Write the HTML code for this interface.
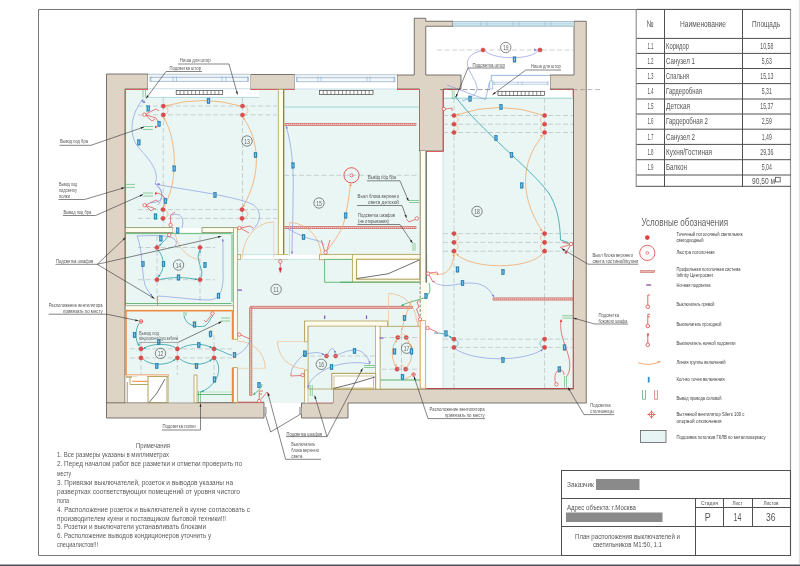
<!DOCTYPE html>
<html><head><meta charset="utf-8"><style>
html,body{margin:0;padding:0;background:#fff;}
body{width:800px;height:566px;overflow:hidden;}
svg{display:block;will-change:transform;}
text{font-family:"Liberation Sans", sans-serif;}
</style></head><body>
<svg width="800" height="566" viewBox="0 0 800 566">
<path d="M790.5,9.5 H38.5 V555.5 H790.5" stroke="#777" fill="none" stroke-width="1" />
<line x1="790.5" y1="9" x2="790.5" y2="556" stroke="#999" stroke-width="1.2" />
<rect x="0" y="564.5" width="800" height="1.5" fill="#4e535d" stroke="none" stroke-width="1" />
<line x1="799.3" y1="0" x2="799.3" y2="564" stroke="#dcdcdc" stroke-width="1" />
<line x1="636" y1="9.4" x2="791" y2="9.4" stroke="#505050" stroke-width="1" />
<line x1="636" y1="38.4" x2="791" y2="38.4" stroke="#505050" stroke-width="1" />
<line x1="636" y1="53.4" x2="791" y2="53.4" stroke="#505050" stroke-width="1" />
<line x1="636" y1="68.5" x2="791" y2="68.5" stroke="#505050" stroke-width="1" />
<line x1="636" y1="83.6" x2="791" y2="83.6" stroke="#505050" stroke-width="1" />
<line x1="636" y1="99.0" x2="791" y2="99.0" stroke="#505050" stroke-width="1" />
<line x1="636" y1="114.0" x2="791" y2="114.0" stroke="#505050" stroke-width="1" />
<line x1="636" y1="129.2" x2="791" y2="129.2" stroke="#505050" stroke-width="1" />
<line x1="636" y1="144.4" x2="791" y2="144.4" stroke="#505050" stroke-width="1" />
<line x1="636" y1="159.7" x2="791" y2="159.7" stroke="#505050" stroke-width="1" />
<line x1="636" y1="175.0" x2="791" y2="175.0" stroke="#505050" stroke-width="1" />
<line x1="636" y1="186.3" x2="791" y2="186.3" stroke="#505050" stroke-width="1" />
<line x1="664.5" y1="9" x2="664.5" y2="187" stroke="#505050" stroke-width="1" />
<line x1="742.5" y1="9" x2="742.5" y2="187" stroke="#505050" stroke-width="1" />
<line x1="636.2" y1="9" x2="636.2" y2="187" stroke="#8a8a8a" stroke-width="1.1" />
<text x="650" y="26.7" font-size="9.4" text-anchor="middle" fill="#555555" textLength="7" lengthAdjust="spacingAndGlyphs" >№</text>
<text x="703" y="26.5" font-size="9" text-anchor="middle" fill="#555555" textLength="46" lengthAdjust="spacingAndGlyphs" >Наименование</text>
<text x="766" y="26.5" font-size="9" text-anchor="middle" fill="#555555" textLength="28" lengthAdjust="spacingAndGlyphs" >Площадь</text>
<text x="650.5" y="48.7" font-size="8.6" text-anchor="middle" fill="#555555" textLength="6.2" lengthAdjust="spacingAndGlyphs" >1.1</text>
<text x="666" y="48.7" font-size="8.4" text-anchor="start" fill="#555555" textLength="23" lengthAdjust="spacingAndGlyphs" >Коридор</text>
<text x="766.8" y="48.7" font-size="8.6" text-anchor="middle" fill="#555555" textLength="13" lengthAdjust="spacingAndGlyphs" >10,58</text>
<text x="650.5" y="63.7" font-size="8.6" text-anchor="middle" fill="#555555" textLength="6.2" lengthAdjust="spacingAndGlyphs" >1.2</text>
<text x="666" y="63.7" font-size="8.4" text-anchor="start" fill="#555555" textLength="29" lengthAdjust="spacingAndGlyphs" >Санузел 1</text>
<text x="766.8" y="63.7" font-size="8.6" text-anchor="middle" fill="#555555" textLength="10" lengthAdjust="spacingAndGlyphs" >5,63</text>
<text x="650.5" y="78.8" font-size="8.6" text-anchor="middle" fill="#555555" textLength="6.2" lengthAdjust="spacingAndGlyphs" >1.3</text>
<text x="666" y="78.8" font-size="8.4" text-anchor="start" fill="#555555" textLength="23" lengthAdjust="spacingAndGlyphs" >Спальня</text>
<text x="766.8" y="78.8" font-size="8.6" text-anchor="middle" fill="#555555" textLength="13" lengthAdjust="spacingAndGlyphs" >15,13</text>
<text x="650.5" y="93.89999999999999" font-size="8.6" text-anchor="middle" fill="#555555" textLength="6.2" lengthAdjust="spacingAndGlyphs" >1.4</text>
<text x="666" y="93.89999999999999" font-size="8.4" text-anchor="start" fill="#555555" textLength="36" lengthAdjust="spacingAndGlyphs" >Гардеробная</text>
<text x="766.8" y="93.89999999999999" font-size="8.6" text-anchor="middle" fill="#555555" textLength="10" lengthAdjust="spacingAndGlyphs" >5,31</text>
<text x="650.5" y="109.3" font-size="8.6" text-anchor="middle" fill="#555555" textLength="6.2" lengthAdjust="spacingAndGlyphs" >1.5</text>
<text x="666" y="109.3" font-size="8.4" text-anchor="start" fill="#555555" textLength="24" lengthAdjust="spacingAndGlyphs" >Детская</text>
<text x="766.8" y="109.3" font-size="8.6" text-anchor="middle" fill="#555555" textLength="13" lengthAdjust="spacingAndGlyphs" >15,37</text>
<text x="650.5" y="124.3" font-size="8.6" text-anchor="middle" fill="#555555" textLength="6.2" lengthAdjust="spacingAndGlyphs" >1.6</text>
<text x="666" y="124.3" font-size="8.4" text-anchor="start" fill="#555555" textLength="42" lengthAdjust="spacingAndGlyphs" >Гардеробная 2</text>
<text x="766.8" y="124.3" font-size="8.6" text-anchor="middle" fill="#555555" textLength="10" lengthAdjust="spacingAndGlyphs" >2,59</text>
<text x="650.5" y="139.5" font-size="8.6" text-anchor="middle" fill="#555555" textLength="6.2" lengthAdjust="spacingAndGlyphs" >1.7</text>
<text x="666" y="139.5" font-size="8.4" text-anchor="start" fill="#555555" textLength="29" lengthAdjust="spacingAndGlyphs" >Санузел 2</text>
<text x="766.8" y="139.5" font-size="8.6" text-anchor="middle" fill="#555555" textLength="10" lengthAdjust="spacingAndGlyphs" >1,49</text>
<text x="650.5" y="154.70000000000002" font-size="8.6" text-anchor="middle" fill="#555555" textLength="6.2" lengthAdjust="spacingAndGlyphs" >1.8</text>
<text x="666" y="154.70000000000002" font-size="8.4" text-anchor="start" fill="#555555" textLength="46" lengthAdjust="spacingAndGlyphs" >Кухня/Гостиная</text>
<text x="766.8" y="154.70000000000002" font-size="8.6" text-anchor="middle" fill="#555555" textLength="13" lengthAdjust="spacingAndGlyphs" >29,36</text>
<text x="650.5" y="170.0" font-size="8.6" text-anchor="middle" fill="#555555" textLength="6.2" lengthAdjust="spacingAndGlyphs" >1.9</text>
<text x="666" y="170.0" font-size="8.4" text-anchor="start" fill="#555555" textLength="21" lengthAdjust="spacingAndGlyphs" >Балкон</text>
<text x="766.8" y="170.0" font-size="8.6" text-anchor="middle" fill="#555555" textLength="10" lengthAdjust="spacingAndGlyphs" >5,04</text>
<text x="775" y="184.2" font-size="8.6" text-anchor="end" fill="#555555" textLength="23" lengthAdjust="spacingAndGlyphs" >90,50 м</text>
<rect x="775.6" y="177.3" width="4.6" height="4.6" fill="none" stroke="#505050" stroke-width="0.8" />
<text x="641.5" y="225.5" font-size="10" text-anchor="start" fill="#606060" textLength="86.5" lengthAdjust="spacingAndGlyphs" >Условные обозначения</text>
<circle cx="647.3" cy="237.6" r="2.3" fill="#e0403f" stroke="none" stroke-width="1" />
<text x="676.5" y="236" font-size="5.6" text-anchor="start" fill="#404040" textLength="66" lengthAdjust="spacingAndGlyphs" >Точечный потолочный светильник</text>
<text x="676.5" y="242" font-size="5.6" text-anchor="start" fill="#404040" textLength="27" lengthAdjust="spacingAndGlyphs" >светодиодный</text>
<circle cx="647.3" cy="252.9" r="7.6" fill="none" stroke="#e0403f" stroke-width="0.8" />
<circle cx="647.3" cy="252.9" r="1.4" fill="none" stroke="#e0403f" stroke-width="0.6" />
<text x="676.5" y="254.3" font-size="5.6" text-anchor="start" fill="#404040" textLength="38" lengthAdjust="spacingAndGlyphs" >Люстра потолочная</text>
<rect x="640.5" y="270.6" width="14" height="1.9" fill="#e29c96" stroke="#c85a55" stroke-width="0.5" />
<line x1="640.5" y1="271.55" x2="654.5" y2="271.55" stroke="white" stroke-width="0.6" stroke-dasharray="0.8,1.2"/>
<text x="676.5" y="270.7" font-size="5.6" text-anchor="start" fill="#404040" textLength="64" lengthAdjust="spacingAndGlyphs" >Профильная потолочная система</text>
<text x="676.5" y="276.7" font-size="5.6" text-anchor="start" fill="#404040" textLength="37" lengthAdjust="spacingAndGlyphs" >Infinity Центросвет</text>
<line x1="646.2" y1="285" x2="651.2" y2="285" stroke="#8040a0" stroke-width="1.2" />
<text x="676.5" y="287.4" font-size="5.6" text-anchor="start" fill="#404040" textLength="34" lengthAdjust="spacingAndGlyphs" >Ночная подсветка</text>
<line x1="647.8" y1="295" x2="647.8" y2="304.9" stroke="#e0403f" stroke-width="0.8" />
<circle cx="647.8" cy="306.7" r="1.8" fill="white" stroke="#e0403f" stroke-width="0.8" />
<line x1="647.8" y1="295" x2="650.0" y2="295" stroke="#e0403f" stroke-width="0.8" />
<text x="676.5" y="306.1" font-size="5.6" text-anchor="start" fill="#404040" textLength="38" lengthAdjust="spacingAndGlyphs" >Выключатель прямой</text>
<line x1="647.8" y1="314.3" x2="647.8" y2="324.2" stroke="#e0403f" stroke-width="0.8" />
<circle cx="647.8" cy="326" r="1.8" fill="white" stroke="#e0403f" stroke-width="0.8" />
<line x1="647.8" y1="314.3" x2="650.3" y2="314.3" stroke="#e0403f" stroke-width="0.8" />
<line x1="647.8" y1="316.8" x2="649.8" y2="316.8" stroke="#e0403f" stroke-width="0.8" />
<text x="676.5" y="325.6" font-size="5.6" text-anchor="start" fill="#404040" textLength="45" lengthAdjust="spacingAndGlyphs" >Выключатель проходной</text>
<line x1="647.8" y1="333.5" x2="647.8" y2="343.0" stroke="#e0403f" stroke-width="0.8" />
<circle cx="647.8" cy="344.8" r="1.8" fill="white" stroke="#e0403f" stroke-width="0.8" />
<path d="M647.1999999999999,333.5 L649.1999999999999,333.5 L647.8,337.0 Z" stroke="none" fill="#e0403f" stroke-width="1" />
<text x="676.5" y="344.5" font-size="5.6" text-anchor="start" fill="#404040" textLength="59" lengthAdjust="spacingAndGlyphs" >Выключатель ночной подсветки</text>
<path d="M638,362.7 Q649.5,366.5 660.5,361.6" stroke="#f0a060" fill="none" stroke-width="0.9" />
<path d="M660.5,361.6 l-3,-0.6 l0.8,2.2 Z" stroke="none" fill="#f0a060" stroke-width="1" />
<text x="676.5" y="364.2" font-size="5.6" text-anchor="start" fill="#404040" textLength="49" lengthAdjust="spacingAndGlyphs" >Линия группы включений</text>
<rect x="647.8" y="376.9" width="1.8" height="5.6" fill="#2e8fcf" stroke="none" stroke-width="1" />
<text x="676.5" y="381.1" font-size="5.6" text-anchor="start" fill="#404040" textLength="48" lengthAdjust="spacingAndGlyphs" >Кол-во точек включения</text>
<path d="M642.5,390 V399.3 H645.5 V390" stroke="#50a070" fill="none" stroke-width="0.7" />
<path d="M654.6,390 V399.3 H657.4 V390" stroke="#d06060" fill="none" stroke-width="0.7" />
<text x="676.5" y="399.8" font-size="5.6" text-anchor="start" fill="#404040" textLength="45" lengthAdjust="spacingAndGlyphs" >Вывод провода силовой</text>
<path d="M651.5,411.3 L654.7,414.5 L651.5,417.7 L648.3,414.5 Z" stroke="#e0403f" fill="white" stroke-width="0.8" />
<line x1="647.5" y1="414.5" x2="655.5" y2="414.5" stroke="#e0403f" stroke-width="0.7" />
<line x1="651.5" y1="410.5" x2="651.5" y2="418.5" stroke="#e0403f" stroke-width="0.7" />
<text x="676.5" y="416.4" font-size="5.6" text-anchor="start" fill="#404040" textLength="68" lengthAdjust="spacingAndGlyphs" >Вытяжной вентилятор Silent 100 с</text>
<text x="676.5" y="422.6" font-size="5.6" text-anchor="start" fill="#404040" textLength="45" lengthAdjust="spacingAndGlyphs" >опорной отключения</text>
<rect x="640.5" y="430.5" width="25.5" height="12" fill="#e6f4f4" stroke="#606060" stroke-width="0.8" />
<text x="676.5" y="439" font-size="5.6" text-anchor="start" fill="#404040" textLength="89" lengthAdjust="spacingAndGlyphs" >Подшивка потолков ГКЛВ по металлокаркасу</text>
<rect x="561.5" y="470.5" width="229" height="85" fill="none" stroke="#505050" stroke-width="1" />
<line x1="561" y1="498.5" x2="791" y2="498.5" stroke="#505050" stroke-width="1" />
<line x1="561" y1="526.5" x2="791" y2="526.5" stroke="#505050" stroke-width="1" />
<line x1="695.5" y1="498" x2="695.5" y2="555" stroke="#505050" stroke-width="1" />
<line x1="723.5" y1="498" x2="723.5" y2="526" stroke="#505050" stroke-width="1" />
<line x1="752.5" y1="498" x2="752.5" y2="526" stroke="#505050" stroke-width="1" />
<line x1="695" y1="507.5" x2="791" y2="507.5" stroke="#505050" stroke-width="1" />
<text x="567" y="487.3" font-size="7" text-anchor="start" fill="#555555" textLength="27" lengthAdjust="spacingAndGlyphs" >Заказчик</text>
<rect x="596" y="479" width="43.5" height="11" fill="#8a8a8a" stroke="none" stroke-width="1" />
<text x="567" y="510" font-size="7" text-anchor="start" fill="#555555" textLength="69" lengthAdjust="spacingAndGlyphs" >Адрес объекта: г.Москва</text>
<rect x="566" y="512.5" width="96.5" height="9.5" fill="#8a8a8a" stroke="none" stroke-width="1" />
<text x="709.5" y="504.6" font-size="5" text-anchor="middle" fill="#555555" textLength="17" lengthAdjust="spacingAndGlyphs" >Стадия</text>
<text x="737.5" y="504.6" font-size="5" text-anchor="middle" fill="#555555" textLength="10" lengthAdjust="spacingAndGlyphs" >Лист</text>
<text x="771" y="504.6" font-size="5" text-anchor="middle" fill="#555555" textLength="15" lengthAdjust="spacingAndGlyphs" >Листов</text>
<text x="707.8" y="520.6" font-size="11" text-anchor="middle" fill="#555555" textLength="6" lengthAdjust="spacingAndGlyphs" >Р</text>
<text x="737.4" y="520.6" font-size="11" text-anchor="middle" fill="#555555" textLength="7.7" lengthAdjust="spacingAndGlyphs" >14</text>
<text x="770.8" y="520.6" font-size="11" text-anchor="middle" fill="#555555" textLength="9.5" lengthAdjust="spacingAndGlyphs" >36</text>
<text x="627.5" y="538.5" font-size="6.5" text-anchor="middle" fill="#555555" textLength="105" lengthAdjust="spacingAndGlyphs" >План расположения выключателей и</text>
<text x="627.5" y="547" font-size="6.5" text-anchor="middle" fill="#555555" textLength="69" lengthAdjust="spacingAndGlyphs" >светильников М1:50, 1.1</text>
<text x="153" y="448.3" font-size="7.4" text-anchor="middle" fill="#5a5a5a" textLength="34" lengthAdjust="spacingAndGlyphs" >Примечания</text>
<text x="57" y="457.1" font-size="7.4" text-anchor="start" fill="#5a5a5a" textLength="112" lengthAdjust="spacingAndGlyphs" >1. Все размеры указаны в миллиметрах</text>
<text x="57" y="466.3" font-size="7.4" text-anchor="start" fill="#5a5a5a" textLength="185" lengthAdjust="spacingAndGlyphs" >2. Перед началом работ все разметки и отметки проверить по</text>
<text x="57" y="475.5" font-size="7.4" text-anchor="start" fill="#5a5a5a" textLength="14" lengthAdjust="spacingAndGlyphs" >месту</text>
<text x="57" y="484.7" font-size="7.4" text-anchor="start" fill="#5a5a5a" textLength="176" lengthAdjust="spacingAndGlyphs" >3. Привязки выключателей, розеток и выводов указаны на</text>
<text x="57" y="493.9" font-size="7.4" text-anchor="start" fill="#5a5a5a" textLength="183" lengthAdjust="spacingAndGlyphs" >развертках соответствующих помещений от уровня чистого</text>
<text x="57" y="502.9" font-size="7.4" text-anchor="start" fill="#5a5a5a" textLength="12" lengthAdjust="spacingAndGlyphs" >пола</text>
<text x="57" y="511.9" font-size="7.4" text-anchor="start" fill="#5a5a5a" textLength="193" lengthAdjust="spacingAndGlyphs" >4. Расположение розеток и выключателей в кухне согласовать с</text>
<text x="57" y="520.9" font-size="7.4" text-anchor="start" fill="#5a5a5a" textLength="169" lengthAdjust="spacingAndGlyphs" >производителем кухни и поставщиком бытовой техники!!!</text>
<text x="57" y="529.3" font-size="7.4" text-anchor="start" fill="#5a5a5a" textLength="149" lengthAdjust="spacingAndGlyphs" >5. Розетки и выключатели устанавливать блоками</text>
<text x="57" y="538.3" font-size="7.4" text-anchor="start" fill="#5a5a5a" textLength="154" lengthAdjust="spacingAndGlyphs" >6. Расположение выводов кондиционеров уточнить у</text>
<text x="57" y="546.9" font-size="7.4" text-anchor="start" fill="#5a5a5a" textLength="41" lengthAdjust="spacingAndGlyphs" >специалистов!!!</text>
<rect x="125" y="89" width="448.5" height="300" fill="#eaf6f4" stroke="none" stroke-width="1" />
<rect x="125" y="389" width="208" height="14" fill="#eaf6f4" stroke="none" stroke-width="1" />
<rect x="148" y="89" width="111" height="8.4" fill="white" stroke="none" stroke-width="1" />
<line x1="148" y1="97.4" x2="259" y2="97.4" stroke="#9fd0d8" stroke-width="0.8" />
<rect x="443.5" y="89" width="130" height="9.2" fill="white" stroke="none" stroke-width="1" />
<line x1="443.5" y1="98.2" x2="573.5" y2="98.2" stroke="#7cc8c8" stroke-width="0.8" />
<rect x="426.5" y="151" width="16.5" height="238" fill="white" stroke="none" stroke-width="1" />
<line x1="443" y1="151" x2="443" y2="389" stroke="#b8d8d8" stroke-width="0.7" />
<path d="M106.5,74 L148,74 L148,89 L125,89 L125,402.6 L264,402.6 L264,418 L106.5,418 Z" stroke="#5a5550" fill="#ded4c5" stroke-width="0.8" />
<path d="M250.5,74.5 L294.7,74.5 L294.7,89.3 L250.5,89.3 Z" stroke="#5a5550" fill="#ded4c5" stroke-width="0.8" />
<path d="M414.25,18.25 L425.75,18.25 L425.75,21.25 L453,21.25 L453,26.25 L425.75,26.25 L425.75,75 L461,75 L461,89 L443.5,89 L443.5,151 L419.5,151 L419.5,89 L397,89 L397,75 L414.25,75 Z" stroke="#5a5550" fill="#ded4c5" stroke-width="0.8" />
<path d="M574,21.25 L586.25,21.25 L586.25,403 L348,403 L348,418 L301.5,418 L301.5,403 L333,403 L333,389 L573.5,389 L573.5,89 L550,89 L550,75 L574,75 Z" stroke="#5a5550" fill="#ded4c5" stroke-width="0.8" />
<line x1="125.5" y1="89" x2="125.5" y2="310" stroke="#d66060" stroke-width="1" />
<line x1="125" y1="89.5" x2="148" y2="89.5" stroke="#d66060" stroke-width="1" />
<line x1="250.5" y1="89.5" x2="278" y2="89.5" stroke="#d66060" stroke-width="1" />
<line x1="284" y1="89.5" x2="294.7" y2="89.5" stroke="#d66060" stroke-width="1" />
<line x1="397" y1="89.5" x2="419.5" y2="89.5" stroke="#d66060" stroke-width="1" />
<line x1="443.5" y1="89.5" x2="461" y2="89.5" stroke="#d66060" stroke-width="1" />
<line x1="550" y1="89.5" x2="573.5" y2="89.5" stroke="#d66060" stroke-width="1" />
<line x1="426" y1="151.5" x2="443.5" y2="151.5" stroke="#d66060" stroke-width="1" />
<line x1="443" y1="89" x2="443" y2="151" stroke="#d66060" stroke-width="1" />
<line x1="419.5" y1="89" x2="419.5" y2="151" stroke="#d66060" stroke-width="0.8" />
<line x1="573" y1="89" x2="573" y2="97" stroke="#d66060" stroke-width="0.8" />
<line x1="573" y1="280" x2="573" y2="389" stroke="#c87060" stroke-width="0.8" />
<line x1="426" y1="388.5" x2="573.5" y2="388.5" stroke="#b84848" stroke-width="1" />
<line x1="237" y1="402.2" x2="264" y2="402.2" stroke="#d66060" stroke-width="1" />
<rect x="148" y="74" width="102.5" height="15" fill="white" stroke="none" stroke-width="1" />
<line x1="148" y1="74.3" x2="250.5" y2="74.3" stroke="#8aa0b0" stroke-width="0.7" />
<line x1="148" y1="88.7" x2="250.5" y2="88.7" stroke="#a8c8d8" stroke-width="0.6" />
<rect x="148.5" y="74.8" width="101.5" height="2.4" fill="#eef3f6" stroke="none" stroke-width="1" />
<rect x="150" y="77.3" width="98.5" height="4" fill="#f4f8fa" stroke="#8aaac8" stroke-width="0.7" />
<rect x="294.7" y="74.5" width="102.30000000000001" height="14.799999999999997" fill="white" stroke="none" stroke-width="1" />
<line x1="294.7" y1="74.8" x2="397" y2="74.8" stroke="#8aa0b0" stroke-width="0.7" />
<line x1="294.7" y1="89.0" x2="397" y2="89.0" stroke="#a8c8d8" stroke-width="0.6" />
<rect x="295.2" y="75.3" width="101.30000000000001" height="2.4" fill="#eef3f6" stroke="none" stroke-width="1" />
<rect x="296.7" y="77.8" width="98.30000000000001" height="4" fill="#f4f8fa" stroke="#8aaac8" stroke-width="0.7" />
<rect x="453" y="21.25" width="121" height="5.2" fill="#e2f2f7" stroke="none" stroke-width="1" />
<line x1="453" y1="21.5" x2="574" y2="21.5" stroke="#7f9fb4" stroke-width="0.6" />
<line x1="453" y1="23.2" x2="574" y2="23.2" stroke="#8fb8cc" stroke-width="0.6" />
<line x1="453" y1="25.0" x2="574" y2="25.0" stroke="#8fb8cc" stroke-width="0.6" />
<line x1="453" y1="26.3" x2="574" y2="26.3" stroke="#7f9fb4" stroke-width="0.6" />
<line x1="480.6" y1="22" x2="480.6" y2="26" stroke="#8fb8cc" stroke-width="0.5" />
<line x1="486.9" y1="22" x2="486.9" y2="26" stroke="#8fb8cc" stroke-width="0.5" />
<line x1="513" y1="22" x2="513" y2="26" stroke="#8fb8cc" stroke-width="0.5" />
<line x1="519" y1="22" x2="519" y2="26" stroke="#8fb8cc" stroke-width="0.5" />
<line x1="545" y1="22" x2="545" y2="26" stroke="#8fb8cc" stroke-width="0.5" />
<line x1="551" y1="22" x2="551" y2="26" stroke="#8fb8cc" stroke-width="0.5" />
<line x1="151" y1="76.5" x2="151" y2="81.5" stroke="#7ab0d8" stroke-width="0.6" />
<line x1="173" y1="76.5" x2="173" y2="81.5" stroke="#7ab0d8" stroke-width="0.6" />
<line x1="176.5" y1="76.5" x2="176.5" y2="81.5" stroke="#7ab0d8" stroke-width="0.6" />
<line x1="222" y1="76.5" x2="222" y2="81.5" stroke="#7ab0d8" stroke-width="0.6" />
<line x1="226" y1="76.5" x2="226" y2="81.5" stroke="#7ab0d8" stroke-width="0.6" />
<line x1="247.5" y1="76.5" x2="247.5" y2="81.5" stroke="#7ab0d8" stroke-width="0.6" />
<line x1="297" y1="76.5" x2="297" y2="81.5" stroke="#7ab0d8" stroke-width="0.6" />
<line x1="318" y1="76.5" x2="318" y2="81.5" stroke="#7ab0d8" stroke-width="0.6" />
<line x1="321" y1="76.5" x2="321" y2="81.5" stroke="#7ab0d8" stroke-width="0.6" />
<line x1="367" y1="76.5" x2="367" y2="81.5" stroke="#7ab0d8" stroke-width="0.6" />
<line x1="370" y1="76.5" x2="370" y2="81.5" stroke="#7ab0d8" stroke-width="0.6" />
<line x1="394" y1="76.5" x2="394" y2="81.5" stroke="#7ab0d8" stroke-width="0.6" />
<rect x="491" y="75" width="59" height="14" fill="white" stroke="none" stroke-width="1" />
<path d="M491.3,89 V75.4 H550" stroke="#7aa6d6" fill="none" stroke-width="0.8" />
<line x1="492" y1="82.2" x2="549" y2="82.2" stroke="#8ab0d8" stroke-width="0.6" />
<line x1="492" y1="84.2" x2="549" y2="84.2" stroke="#8ab0d8" stroke-width="0.6" />
<rect x="489.8" y="81" width="3" height="8" fill="white" stroke="#7aa6d6" stroke-width="0.6" />
<line x1="494" y1="81.5" x2="494" y2="85" stroke="#8ab0d8" stroke-width="0.5" />
<line x1="518" y1="81.5" x2="518" y2="85" stroke="#8ab0d8" stroke-width="0.5" />
<line x1="522" y1="81.5" x2="522" y2="85" stroke="#8ab0d8" stroke-width="0.5" />
<line x1="547.5" y1="81.5" x2="547.5" y2="85" stroke="#8ab0d8" stroke-width="0.5" />
<rect x="176.2" y="90.5" width="46.5" height="4.0" fill="white" stroke="#444" stroke-width="0.7" />
<line x1="180.075" y1="90.5" x2="180.075" y2="94.5" stroke="#444" stroke-width="0.6" />
<line x1="183.95" y1="90.5" x2="183.95" y2="94.5" stroke="#444" stroke-width="0.6" />
<line x1="187.825" y1="90.5" x2="187.825" y2="94.5" stroke="#444" stroke-width="0.6" />
<line x1="191.7" y1="90.5" x2="191.7" y2="94.5" stroke="#444" stroke-width="0.6" />
<line x1="195.575" y1="90.5" x2="195.575" y2="94.5" stroke="#444" stroke-width="0.6" />
<line x1="199.45" y1="90.5" x2="199.45" y2="94.5" stroke="#444" stroke-width="0.6" />
<line x1="203.325" y1="90.5" x2="203.325" y2="94.5" stroke="#444" stroke-width="0.6" />
<line x1="207.2" y1="90.5" x2="207.2" y2="94.5" stroke="#444" stroke-width="0.6" />
<line x1="211.075" y1="90.5" x2="211.075" y2="94.5" stroke="#444" stroke-width="0.6" />
<line x1="214.95" y1="90.5" x2="214.95" y2="94.5" stroke="#444" stroke-width="0.6" />
<line x1="218.825" y1="90.5" x2="218.825" y2="94.5" stroke="#444" stroke-width="0.6" />
<rect x="319.5" y="90.5" width="53.5" height="4.0" fill="white" stroke="#444" stroke-width="0.7" />
<line x1="323.32142857142856" y1="90.5" x2="323.32142857142856" y2="94.5" stroke="#444" stroke-width="0.6" />
<line x1="327.14285714285717" y1="90.5" x2="327.14285714285717" y2="94.5" stroke="#444" stroke-width="0.6" />
<line x1="330.9642857142857" y1="90.5" x2="330.9642857142857" y2="94.5" stroke="#444" stroke-width="0.6" />
<line x1="334.7857142857143" y1="90.5" x2="334.7857142857143" y2="94.5" stroke="#444" stroke-width="0.6" />
<line x1="338.60714285714283" y1="90.5" x2="338.60714285714283" y2="94.5" stroke="#444" stroke-width="0.6" />
<line x1="342.42857142857144" y1="90.5" x2="342.42857142857144" y2="94.5" stroke="#444" stroke-width="0.6" />
<line x1="346.25" y1="90.5" x2="346.25" y2="94.5" stroke="#444" stroke-width="0.6" />
<line x1="350.07142857142856" y1="90.5" x2="350.07142857142856" y2="94.5" stroke="#444" stroke-width="0.6" />
<line x1="353.89285714285717" y1="90.5" x2="353.89285714285717" y2="94.5" stroke="#444" stroke-width="0.6" />
<line x1="357.7142857142857" y1="90.5" x2="357.7142857142857" y2="94.5" stroke="#444" stroke-width="0.6" />
<line x1="361.5357142857143" y1="90.5" x2="361.5357142857143" y2="94.5" stroke="#444" stroke-width="0.6" />
<line x1="365.35714285714283" y1="90.5" x2="365.35714285714283" y2="94.5" stroke="#444" stroke-width="0.6" />
<line x1="369.17857142857144" y1="90.5" x2="369.17857142857144" y2="94.5" stroke="#444" stroke-width="0.6" />
<rect x="498" y="91.3" width="46.5" height="4.200000000000003" fill="white" stroke="#444" stroke-width="0.7" />
<line x1="501.875" y1="91.3" x2="501.875" y2="95.5" stroke="#444" stroke-width="0.6" />
<line x1="505.75" y1="91.3" x2="505.75" y2="95.5" stroke="#444" stroke-width="0.6" />
<line x1="509.625" y1="91.3" x2="509.625" y2="95.5" stroke="#444" stroke-width="0.6" />
<line x1="513.5" y1="91.3" x2="513.5" y2="95.5" stroke="#444" stroke-width="0.6" />
<line x1="517.375" y1="91.3" x2="517.375" y2="95.5" stroke="#444" stroke-width="0.6" />
<line x1="521.25" y1="91.3" x2="521.25" y2="95.5" stroke="#444" stroke-width="0.6" />
<line x1="525.125" y1="91.3" x2="525.125" y2="95.5" stroke="#444" stroke-width="0.6" />
<line x1="529.0" y1="91.3" x2="529.0" y2="95.5" stroke="#444" stroke-width="0.6" />
<line x1="532.875" y1="91.3" x2="532.875" y2="95.5" stroke="#444" stroke-width="0.6" />
<line x1="536.75" y1="91.3" x2="536.75" y2="95.5" stroke="#444" stroke-width="0.6" />
<line x1="540.625" y1="91.3" x2="540.625" y2="95.5" stroke="#444" stroke-width="0.6" />
<rect x="278.3" y="89.5" width="5.6" height="165.2" fill="#fffcee" stroke="#b8a868" stroke-width="0.9" />
<line x1="283.6" y1="89.5" x2="283.6" y2="254.7" stroke="#7a7a45" stroke-width="1" />
<rect x="274.5" y="254.7" width="13.5" height="4.6" fill="#fffcee" stroke="#b8a868" stroke-width="0.9" />
<rect x="125.5" y="227.6" width="47.5" height="4.9" fill="#fffcee" stroke="#8c9c74" stroke-width="0.9" />
<rect x="173" y="228.3" width="29" height="3.8" fill="white" stroke="none" stroke-width="1" />
<rect x="202" y="227.6" width="35.4" height="4.9" fill="#fffcee" stroke="#8c9c74" stroke-width="0.9" />
<line x1="126" y1="233.6" x2="231.5" y2="233.6" stroke="#4aaa5a" stroke-width="0.8" />
<rect x="233.5" y="227.8" width="3.9" height="111.5" fill="#fffcee" stroke="#b8a868" stroke-width="0.9" />
<rect x="233.5" y="367.6" width="3.9" height="35" fill="#fffcee" stroke="#b8a868" stroke-width="0.9" />
<line x1="232" y1="234" x2="232" y2="302" stroke="#4aaa5a" stroke-width="0.8" />
<rect x="125.5" y="305.7" width="108" height="4.6" fill="#fffcee" stroke="#9aaa8c" stroke-width="0.9" />
<line x1="126" y1="303.5" x2="231.5" y2="303.5" stroke="#4aaa5a" stroke-width="0.8" />
<line x1="126" y1="310.7" x2="232.5" y2="310.7" stroke="#f08840" stroke-width="1.4" />
<path d="M126,310.5 V375.3 H169 M232.5,339.4 V310.5 M232.5,367.6 V402" stroke="#f08840" fill="none" stroke-width="1.4" />
<line x1="197" y1="394.5" x2="232" y2="394.5" stroke="#4aaa5a" stroke-width="0.8" />
<line x1="197" y1="392" x2="232" y2="392" stroke="#8ccc98" stroke-width="0.5" />
<line x1="198.5" y1="391" x2="198.5" y2="402" stroke="#4aaa5a" stroke-width="0.6" />
<line x1="200.5" y1="391" x2="200.5" y2="402" stroke="#4aaa5a" stroke-width="0.6" />
<rect x="237.4" y="254.9" width="115" height="4.2" fill="white" stroke="none" stroke-width="1" />
<line x1="237.4" y1="259.3" x2="352.4" y2="259.3" stroke="#a8d8d8" stroke-width="0.6" />
<line x1="237.4" y1="254.7" x2="274.5" y2="254.7" stroke="#a8d8d8" stroke-width="0.6" />
<rect x="237.4" y="254.7" width="3.2" height="4.6" fill="#fffcee" stroke="#b8a868" stroke-width="0.9" />
<rect x="319.5" y="254.4" width="100.5" height="5.3" fill="#fffcee" stroke="#b8a868" stroke-width="0.9" />
<rect x="324.7" y="259.3" width="27.7" height="22.9" fill="#eaf6f4" stroke="#4aaa5a" stroke-width="0.8" />
<rect x="352.4" y="254.4" width="74.3" height="27.6" fill="#fffcee" stroke="#b8a868" stroke-width="0.9" />
<rect x="356.5" y="259.3" width="63.3" height="19.9" fill="white" stroke="#b8a868" stroke-width="1.2" />
<path d="M357,278.5 L388,273.8 L419.3,260" stroke="#333" fill="none" stroke-width="0.7" />
<line x1="340" y1="282.2" x2="426.5" y2="282.2" stroke="#4aaa5a" stroke-width="0.9" />
<rect x="419.8" y="151" width="6.4" height="170" fill="#fffcf0" stroke="none" stroke-width="1" />
<line x1="420.2" y1="151" x2="420.2" y2="282" stroke="#7a7a58" stroke-width="0.9" />
<line x1="420.2" y1="282" x2="420.2" y2="321" stroke="#707060" stroke-width="0.8" stroke-dasharray="3,1.5"/>
<line x1="426.2" y1="151" x2="426.2" y2="282.5" stroke="#6c7a6e" stroke-width="1.5" />
<rect x="304.6" y="321" width="83.2" height="68" fill="#fffcee" stroke="#b8a868" stroke-width="0.9" />
<rect x="304.6" y="388" width="28.4" height="14.6" fill="white" stroke="none" stroke-width="1" />
<line x1="304.6" y1="321" x2="304.6" y2="402.6" stroke="#b8a868" stroke-width="0.9" />
<line x1="308.1" y1="326" x2="308.1" y2="402.6" stroke="#b8a868" stroke-width="0.9" />
<rect x="308.6" y="386" width="24.4" height="16.6" fill="#eaf6f4" stroke="none" stroke-width="1" />
<rect x="304" y="341.8" width="4.6" height="28.2" fill="#eaf6f4" stroke="none" stroke-width="1" />
<line x1="304.2" y1="341.8" x2="308.6" y2="341.8" stroke="#b8a868" stroke-width="0.8" />
<line x1="304.2" y1="370" x2="308.6" y2="370" stroke="#b8a868" stroke-width="0.8" />
<path d="M387.8,321 V326.6 H418 V321" stroke="#b8a868" fill="none" stroke-width="0.9" />
<rect x="308.1" y="326.1" width="67.5" height="62.9" fill="#eaf6f4" stroke="#b8a868" stroke-width="0.9" />
<rect x="380" y="326.3" width="40.2" height="62.7" fill="#eaf6f4" stroke="#b8a868" stroke-width="0.9" />
<rect x="375.6" y="326.1" width="4.4" height="62.9" fill="white" stroke="#b8a868" stroke-width="0.7" />
<rect x="420.3" y="320.6" width="5.1" height="67.6" fill="white" stroke="#e0a868" stroke-width="0.9" />
<line x1="380.5" y1="380" x2="420" y2="380" stroke="#4aaa5a" stroke-width="0.9" />
<rect x="331.8" y="373.4" width="43.8" height="15.6" fill="white" stroke="#b8a868" stroke-width="1.2" />
<rect x="334" y="376" width="39.5" height="12" fill="white" stroke="#b8a868" stroke-width="0.7" />
<path d="M333.5,388.5 L355,383 L375,377" stroke="#333" fill="none" stroke-width="0.7" />
<rect x="125.5" y="375.3" width="43" height="27.3" fill="white" stroke="none" stroke-width="1" />
<path d="M125.8,377 H137 V381 H147 V377 H168.5 V402.6" stroke="#b8a868" fill="none" stroke-width="1.3" stroke-linejoin="miter"/>
<rect x="132" y="376.5" width="16" height="4.5" fill="white" stroke="none" stroke-width="1" />
<line x1="132" y1="381.3" x2="148" y2="381.3" stroke="#f0a060" stroke-width="1.2" />
<path d="M130,378 V384.5 H148" stroke="#b8a868" fill="none" stroke-width="1" />
<rect x="148" y="376.5" width="19" height="26.1" fill="white" stroke="#b8a868" stroke-width="1.1" />
<line x1="127.3" y1="382" x2="127.3" y2="402.6" stroke="#b8a868" stroke-width="1.1" />
<line x1="106.5" y1="402.8" x2="125" y2="402.8" stroke="#5a5550" stroke-width="0.8" />
<line x1="125" y1="402.8" x2="237" y2="402.8" stroke="#8a8078" stroke-width="0.6" />
<path d="M149.5,402 L157,393 L165,379" stroke="#333" fill="none" stroke-width="0.7" />
<rect x="168.5" y="376.5" width="25.5" height="26.1" fill="#eaf6f4" stroke="none" stroke-width="1" />
<rect x="194" y="375" width="3" height="27.6" fill="#fffcee" stroke="#b8a868" stroke-width="0.9" />
<line x1="163.3" y1="98" x2="163.3" y2="227" stroke="#a9b6bc" stroke-width="0.6" stroke-dasharray="5,2.5"/>
<line x1="242.5" y1="98" x2="242.5" y2="227" stroke="#a9b6bc" stroke-width="0.6" stroke-dasharray="5,2.5"/>
<line x1="138" y1="106.1" x2="277" y2="106.1" stroke="#a9b6bc" stroke-width="0.6" stroke-dasharray="5,2.5"/>
<line x1="138" y1="114.9" x2="277" y2="114.9" stroke="#a9b6bc" stroke-width="0.6" stroke-dasharray="5,2.5"/>
<line x1="138" y1="209.6" x2="277" y2="209.6" stroke="#a9b6bc" stroke-width="0.6" stroke-dasharray="5,2.5"/>
<line x1="138" y1="218.4" x2="277" y2="218.4" stroke="#a9b6bc" stroke-width="0.6" stroke-dasharray="5,2.5"/>
<path d="M165,106 Q203,95 240.5,106" stroke="#f2a868" fill="none" stroke-width="0.8" />
<path d="M163.3,117 C178,140 178,185 163.3,207.5" stroke="#f2a868" fill="none" stroke-width="0.8" />
<path d="M242.5,117 C260,140 262,175 242.5,207.5" stroke="#f2a868" fill="none" stroke-width="0.8" />
<path d="M165,106.5 C169,108 169,113 165,114.5" stroke="#f2a868" fill="none" stroke-width="0.7" />
<path d="M244.5,106.5 C249,108 249,113 244.5,114.5" stroke="#f2a868" fill="none" stroke-width="0.7" />
<path d="M165,210 C169,212 169,216 165,218" stroke="#f2a868" fill="none" stroke-width="0.7" />
<path d="M244.5,210 C249,212 249,216 244.5,218" stroke="#f2a868" fill="none" stroke-width="0.7" />
<circle cx="163.3" cy="106.1" r="2.1" fill="#e04a4a" stroke="#c03535" stroke-width="0.4" />
<circle cx="163.3" cy="114.9" r="2.1" fill="#e04a4a" stroke="#c03535" stroke-width="0.4" />
<circle cx="242.5" cy="106" r="2.1" fill="#e04a4a" stroke="#c03535" stroke-width="0.4" />
<circle cx="242.5" cy="115" r="2.1" fill="#e04a4a" stroke="#c03535" stroke-width="0.4" />
<circle cx="163" cy="209.6" r="2.1" fill="#e04a4a" stroke="#c03535" stroke-width="0.4" />
<circle cx="163" cy="218.4" r="2.1" fill="#e04a4a" stroke="#c03535" stroke-width="0.4" />
<circle cx="242" cy="209.6" r="2.1" fill="#e04a4a" stroke="#c03535" stroke-width="0.4" />
<circle cx="242" cy="218.4" r="2.1" fill="#e04a4a" stroke="#c03535" stroke-width="0.4" />
<rect x="207.0" y="98.10000000000001" width="3" height="5.6" fill="#2f8fc4" stroke="#1a6f9a" stroke-width="0.3" />
<line x1="208.5" y1="99.30000000000001" x2="208.5" y2="102.5" stroke="#bfe6f6" stroke-width="0.6" />
<rect x="172.8" y="165.79999999999998" width="3" height="5.6" fill="#2f8fc4" stroke="#1a6f9a" stroke-width="0.3" />
<line x1="174.3" y1="166.99999999999997" x2="174.3" y2="170.20000000000002" stroke="#bfe6f6" stroke-width="0.6" />
<rect x="254.0" y="152.2" width="3" height="5.6" fill="#2f8fc4" stroke="#1a6f9a" stroke-width="0.3" />
<line x1="255.5" y1="153.39999999999998" x2="255.5" y2="156.60000000000002" stroke="#bfe6f6" stroke-width="0.6" />
<rect x="213.5" y="192.2" width="3" height="5.6" fill="#2f8fc4" stroke="#1a6f9a" stroke-width="0.3" />
<line x1="215" y1="193.39999999999998" x2="215" y2="196.60000000000002" stroke="#bfe6f6" stroke-width="0.6" />
<rect x="146.8" y="105.7" width="3" height="5.6" fill="#2f8fc4" stroke="#1a6f9a" stroke-width="0.3" />
<line x1="148.3" y1="106.9" x2="148.3" y2="110.1" stroke="#bfe6f6" stroke-width="0.6" />
<rect x="157.6" y="121.10000000000001" width="3" height="5.6" fill="#2f8fc4" stroke="#1a6f9a" stroke-width="0.3" />
<line x1="159.1" y1="122.30000000000001" x2="159.1" y2="125.5" stroke="#bfe6f6" stroke-width="0.6" />
<rect x="137.3" y="139.6" width="3" height="5.6" fill="#2f8fc4" stroke="#1a6f9a" stroke-width="0.3" />
<line x1="138.8" y1="140.79999999999998" x2="138.8" y2="144.00000000000003" stroke="#bfe6f6" stroke-width="0.6" />
<rect x="154.0" y="213.7" width="3" height="5.6" fill="#2f8fc4" stroke="#1a6f9a" stroke-width="0.3" />
<line x1="155.5" y1="214.89999999999998" x2="155.5" y2="218.10000000000002" stroke="#bfe6f6" stroke-width="0.6" />
<rect x="176.1" y="227.7" width="3" height="5.6" fill="#2f8fc4" stroke="#1a6f9a" stroke-width="0.3" />
<line x1="177.6" y1="228.89999999999998" x2="177.6" y2="232.10000000000002" stroke="#bfe6f6" stroke-width="0.6" />
<circle cx="247" cy="141" r="5.2" fill="none" stroke="#555" stroke-width="0.7" />
<text x="247" y="143.5" font-size="7" text-anchor="middle" fill="#666" textLength="5.6" lengthAdjust="spacingAndGlyphs" >13</text>
<path d="M143,99 C128,118 130,138 139,148 C150,160 160,172 155,184" stroke="#7f8fe0" fill="none" stroke-width="0.63" />
<path d="M155,184 C185,190 230,195 252,204 C262,210 262,222 252,230" stroke="#7f8fe0" fill="none" stroke-width="0.63" />
<path d="M155,184 C165,190 162,200 158,205" stroke="#7f8fe0" fill="none" stroke-width="0.63" />
<path d="M172,215 C180,212 185,218 182,228" stroke="#7f8fe0" fill="none" stroke-width="0.63" />
<circle cx="144.4" cy="114.6" r="1.7" fill="white" stroke="#d84040" stroke-width="0.7" />
<path d="M146,114 L156,109 L159,111 M146,115 L156,118 L158,121 M146,115.5 L152,121 L155,119" stroke="#e04848" fill="none" stroke-width="0.7" />
<circle cx="144.6" cy="205.2" r="1.7" fill="white" stroke="#d84040" stroke-width="0.7" />
<path d="M146,205 L156,200 L159,202 M146,205.5 L156,209 M146,206 L151,211 L154,209" stroke="#e04848" fill="none" stroke-width="0.7" />
<circle cx="170.6" cy="225" r="1.7" fill="white" stroke="#d84040" stroke-width="0.7" />
<path d="M170.6,223.3 V215 L175,212" stroke="#e04848" fill="none" stroke-width="0.7" />
<circle cx="239.4" cy="228" r="1.7" fill="white" stroke="#d84040" stroke-width="0.7" />
<path d="M241,228 L250,226 L253,228 M241,228.5 L249,233" stroke="#e04848" fill="none" stroke-width="0.7" />
<line x1="143" y1="126.5" x2="153" y2="126.5" stroke="#4aae62" stroke-width="0.6" />
<line x1="143" y1="129.5" x2="153" y2="129.5" stroke="#4aae62" stroke-width="0.6" />
<path d="M155,125.5 l2.5,1.5 l-2.5,1.5 Z" stroke="none" fill="#e04848" stroke-width="1" />
<line x1="126" y1="184.4" x2="135" y2="184.4" stroke="#4aae62" stroke-width="0.6" />
<line x1="126" y1="187.4" x2="135" y2="187.4" stroke="#4aae62" stroke-width="0.6" />
<line x1="143" y1="193" x2="153" y2="193" stroke="#4aae62" stroke-width="0.6" />
<line x1="143" y1="196" x2="153" y2="196" stroke="#4aae62" stroke-width="0.6" />
<path d="M155,192 l2.5,1.5 l-2.5,1.5 Z" stroke="none" fill="#e04848" stroke-width="1" />
<line x1="143" y1="90" x2="143" y2="97.5" stroke="#4aae62" stroke-width="0.55" />
<line x1="145.5" y1="90" x2="145.5" y2="97.5" stroke="#4aae62" stroke-width="0.55" />
<path d="M144,100 l-1.5,3 l3,0 Z" stroke="none" fill="#7b8ae6" stroke-width="1" />
<path d="M157,183.5 l3,0 l-1,2 Z" stroke="none" fill="#8050d0" stroke-width="1" />
<line x1="284" y1="107" x2="419" y2="107" stroke="#8fd0d0" stroke-width="0.8" />
<rect x="285" y="123.30000000000001" width="131" height="2.2" fill="#e29c96" stroke="#c85a55" stroke-width="0.6" />
<line x1="285" y1="124.4" x2="416" y2="124.4" stroke="white" stroke-width="0.7" stroke-dasharray="0.8,1.2"/>
<rect x="285" y="226.5" width="131" height="2.2" fill="#e29c96" stroke="#c85a55" stroke-width="0.6" />
<line x1="285" y1="227.6" x2="416" y2="227.6" stroke="white" stroke-width="0.7" stroke-dasharray="0.8,1.2"/>
<line x1="284" y1="175.3" x2="419" y2="175.3" stroke="#a9b6bc" stroke-width="0.6" stroke-dasharray="5,2.5"/>
<circle cx="351.5" cy="175.3" r="7.6" fill="none" stroke="#e04545" stroke-width="0.9" />
<circle cx="351.5" cy="175.3" r="1.7" fill="none" stroke="#e04545" stroke-width="0.6" />
<circle cx="319" cy="203" r="5.2" fill="none" stroke="#555" stroke-width="0.7" />
<text x="319" y="205.5" font-size="7" text-anchor="middle" fill="#666" textLength="5.6" lengthAdjust="spacingAndGlyphs" >15</text>
<path d="M286,126 C292,145 294,170 293,200 C293,220 292,240 292,254" stroke="#7f8fe0" fill="none" stroke-width="0.63" />
<rect x="291.5" y="162.7" width="3" height="5.6" fill="#2f8fc4" stroke="#1a6f9a" stroke-width="0.3" />
<line x1="293" y1="163.89999999999998" x2="293" y2="167.10000000000002" stroke="#bfe6f6" stroke-width="0.6" />
<path d="M350.5,183.5 C349,198 347,208 345.5,216 C343,230 335,240 327,250.5" stroke="#f2a868" fill="none" stroke-width="0.8" />
<path d="M350.5,183 l-1.3,3 l2.6,0 Z" stroke="none" fill="#f0a05a" stroke-width="1" />
<rect x="344.1" y="212.79999999999998" width="3" height="5.6" fill="#2f8fc4" stroke="#1a6f9a" stroke-width="0.3" />
<line x1="345.6" y1="213.99999999999997" x2="345.6" y2="217.20000000000002" stroke="#bfe6f6" stroke-width="0.6" />
<path d="M289.5,222.5 A32,33 0 0 1 321,255.5" stroke="#f2a868" fill="none" stroke-width="0.7" />
<line x1="289.5" y1="222.5" x2="289.5" y2="256" stroke="#f0c090" stroke-width="0.7" />
<path d="M287,228 C295,233 305,238 315,240 C320,241 323,243 324,245" stroke="#7f8fe0" fill="none" stroke-width="0.63" />
<rect x="302.0" y="234.2" width="3" height="5.6" fill="#2f8fc4" stroke="#1a6f9a" stroke-width="0.3" />
<line x1="303.5" y1="235.39999999999998" x2="303.5" y2="238.60000000000002" stroke="#bfe6f6" stroke-width="0.6" />
<circle cx="325.6" cy="252.5" r="1.7" fill="white" stroke="#d84040" stroke-width="0.7" />
<path d="M324.5,251 L321.5,240 M326.7,251 L330,240" stroke="#e04848" fill="none" stroke-width="0.7" />
<line x1="157" y1="236" x2="157" y2="302" stroke="#a9b6bc" stroke-width="0.6" stroke-dasharray="5,2.5"/>
<line x1="200" y1="236" x2="200" y2="302" stroke="#a9b6bc" stroke-width="0.6" stroke-dasharray="5,2.5"/>
<line x1="138" y1="247.5" x2="215" y2="247.5" stroke="#a9b6bc" stroke-width="0.6" stroke-dasharray="5,2.5"/>
<line x1="138" y1="279.7" x2="215" y2="279.7" stroke="#a9b6bc" stroke-width="0.6" stroke-dasharray="5,2.5"/>
<circle cx="157" cy="247.5" r="2.1" fill="#e04a4a" stroke="#c03535" stroke-width="0.4" />
<circle cx="200" cy="247.5" r="2.1" fill="#e04a4a" stroke="#c03535" stroke-width="0.4" />
<circle cx="157" cy="279.7" r="2.1" fill="#e04a4a" stroke="#c03535" stroke-width="0.4" />
<circle cx="200" cy="279.7" r="2.1" fill="#e04a4a" stroke="#c03535" stroke-width="0.4" />
<circle cx="178.5" cy="265" r="5.2" fill="none" stroke="#555" stroke-width="0.7" />
<text x="178.5" y="267.5" font-size="7" text-anchor="middle" fill="#666" textLength="5.6" lengthAdjust="spacingAndGlyphs" >14</text>
<path d="M158,250 C165,258 165,270 158,277" stroke="#2aa0a8" fill="none" stroke-width="0.8" />
<rect x="162.0" y="261.2" width="3" height="5.6" fill="#2f8fc4" stroke="#1a6f9a" stroke-width="0.3" />
<line x1="163.5" y1="262.4" x2="163.5" y2="265.6" stroke="#bfe6f6" stroke-width="0.6" />
<path d="M159.5,279.5 C172,277 185,277 197.5,279.5" stroke="#2aa0a8" fill="none" stroke-width="0.8" />
<rect x="177.0" y="274.7" width="3" height="5.6" fill="#2f8fc4" stroke="#1a6f9a" stroke-width="0.3" />
<line x1="178.5" y1="275.9" x2="178.5" y2="279.1" stroke="#bfe6f6" stroke-width="0.6" />
<path d="M200,250 C194,260 205,270 201,277" stroke="#2aa0a8" fill="none" stroke-width="0.8" />
<rect x="203.5" y="262.2" width="3" height="5.6" fill="#2f8fc4" stroke="#1a6f9a" stroke-width="0.3" />
<line x1="205" y1="263.4" x2="205" y2="266.6" stroke="#bfe6f6" stroke-width="0.6" />
<path d="M137,236 C143,250 141,270 145,285 C147,290 150,294 152.3,296.5" stroke="#7f8fe0" fill="none" stroke-width="0.63" />
<rect x="141.5" y="261.2" width="3" height="5.6" fill="#2f8fc4" stroke="#1a6f9a" stroke-width="0.3" />
<line x1="143" y1="262.4" x2="143" y2="265.6" stroke="#bfe6f6" stroke-width="0.6" />
<path d="M137,236 C150,235.5 162,235 170,237 C176,239 178,242 175,246" stroke="#7f8fe0" fill="none" stroke-width="0.63" />
<rect x="159.3" y="235.7" width="3" height="5.6" fill="#2f8fc4" stroke="#1a6f9a" stroke-width="0.3" />
<line x1="160.8" y1="236.89999999999998" x2="160.8" y2="240.10000000000002" stroke="#bfe6f6" stroke-width="0.6" />
<path d="M158,296 C175,297 195,300 210,300 C220,299 224,290 223,270 C223,255 223,245 222.8,238.8" stroke="#7f8fe0" fill="none" stroke-width="0.63" />
<rect x="217.0" y="293.0" width="3" height="5.6" fill="#2f8fc4" stroke="#1a6f9a" stroke-width="0.3" />
<line x1="218.5" y1="294.2" x2="218.5" y2="297.40000000000003" stroke="#bfe6f6" stroke-width="0.6" />
<path d="M168,236.5 C165,240 161,244 159,246" stroke="#2aa0a8" fill="none" stroke-width="0.8" />
<circle cx="169.2" cy="235" r="1.7" fill="white" stroke="#d84040" stroke-width="0.7" />
<path d="M174.6,229.6 C176,245 186,258 200,259.6" stroke="#f2a868" fill="none" stroke-width="0.6" />
<line x1="157.5" y1="296" x2="157.5" y2="305" stroke="#4aaa5a" stroke-width="0.7" />
<line x1="141" y1="335" x2="141" y2="375" stroke="#a9b6bc" stroke-width="0.6" stroke-dasharray="5,2.5"/>
<line x1="177.4" y1="335" x2="177.4" y2="375" stroke="#a9b6bc" stroke-width="0.6" stroke-dasharray="5,2.5"/>
<line x1="214" y1="335" x2="214" y2="375" stroke="#a9b6bc" stroke-width="0.6" stroke-dasharray="5,2.5"/>
<line x1="130" y1="348.9" x2="232" y2="348.9" stroke="#a9b6bc" stroke-width="0.6" stroke-dasharray="5,2.5"/>
<line x1="130" y1="357.9" x2="232" y2="357.9" stroke="#a9b6bc" stroke-width="0.6" stroke-dasharray="5,2.5"/>
<circle cx="141" cy="348.9" r="2.1" fill="#e04a4a" stroke="#c03535" stroke-width="0.4" />
<circle cx="141" cy="357.9" r="2.1" fill="#e04a4a" stroke="#c03535" stroke-width="0.4" />
<circle cx="177.4" cy="348.9" r="2.1" fill="#e04a4a" stroke="#c03535" stroke-width="0.4" />
<circle cx="177.4" cy="357.9" r="2.1" fill="#e04a4a" stroke="#c03535" stroke-width="0.4" />
<circle cx="214" cy="348.9" r="2.1" fill="#e04a4a" stroke="#c03535" stroke-width="0.4" />
<circle cx="214" cy="357.9" r="2.1" fill="#e04a4a" stroke="#c03535" stroke-width="0.4" />
<circle cx="160.5" cy="353.4" r="5.2" fill="none" stroke="#555" stroke-width="0.7" />
<text x="160.5" y="355.9" font-size="7" text-anchor="middle" fill="#666" textLength="5.6" lengthAdjust="spacingAndGlyphs" >12</text>
<path d="M143,349 C150,343 170,343 175.5,348" stroke="#2aa0a8" fill="none" stroke-width="0.8" />
<rect x="157.2" y="339.2" width="3" height="5.6" fill="#2f8fc4" stroke="#1a6f9a" stroke-width="0.3" />
<line x1="158.7" y1="340.4" x2="158.7" y2="343.6" stroke="#bfe6f6" stroke-width="0.6" />
<path d="M180,349 C188,343 205,343 212,348" stroke="#2aa0a8" fill="none" stroke-width="0.8" />
<rect x="197.2" y="342.2" width="3" height="5.6" fill="#2f8fc4" stroke="#1a6f9a" stroke-width="0.3" />
<line x1="198.7" y1="343.4" x2="198.7" y2="346.6" stroke="#bfe6f6" stroke-width="0.6" />
<path d="M143,359 C150,366 168,366 175.5,359" stroke="#2aa0a8" fill="none" stroke-width="0.8" />
<rect x="155.2" y="363.2" width="3" height="5.6" fill="#2f8fc4" stroke="#1a6f9a" stroke-width="0.3" />
<line x1="156.7" y1="364.4" x2="156.7" y2="367.6" stroke="#bfe6f6" stroke-width="0.6" />
<path d="M180,359 C188,366 205,366 212,359" stroke="#2aa0a8" fill="none" stroke-width="0.8" />
<rect x="195.0" y="363.2" width="3" height="5.6" fill="#2f8fc4" stroke="#1a6f9a" stroke-width="0.3" />
<line x1="196.5" y1="364.4" x2="196.5" y2="367.6" stroke="#bfe6f6" stroke-width="0.6" />
<path d="M215,359 C222,366 220,384 201,392" stroke="#2aa0a8" fill="none" stroke-width="0.8" />
<rect x="213.0" y="376.7" width="3" height="5.6" fill="#2f8fc4" stroke="#1a6f9a" stroke-width="0.3" />
<line x1="214.5" y1="377.9" x2="214.5" y2="381.1" stroke="#bfe6f6" stroke-width="0.6" />
<path d="M216,349 C225,352 228,355 232,355" stroke="#2aa0a8" fill="none" stroke-width="0.8" />
<circle cx="141" cy="321.5" r="1.8" fill="white" stroke="#e04848" stroke-width="0.7" />
<line x1="139" y1="321.5" x2="143" y2="321.5" stroke="#e04848" stroke-width="0.6" />
<line x1="141" y1="319.5" x2="141" y2="323.5" stroke="#e04848" stroke-width="0.6" />
<path d="M139,323.5 C135,330 135,340 139,346" stroke="#2aa0a8" fill="none" stroke-width="0.8" />
<rect x="133.0" y="332.2" width="3" height="5.6" fill="#2f8fc4" stroke="#1a6f9a" stroke-width="0.3" />
<line x1="134.5" y1="333.4" x2="134.5" y2="336.6" stroke="#bfe6f6" stroke-width="0.6" />
<path d="M184,316 C186,325 195,328 205,326 C210,322 210,318 213,316" stroke="#2aa0a8" fill="none" stroke-width="0.8" />
<rect x="193.0" y="321.8" width="3" height="5.6" fill="#2f8fc4" stroke="#1a6f9a" stroke-width="0.3" />
<line x1="194.5" y1="323.0" x2="194.5" y2="326.20000000000005" stroke="#bfe6f6" stroke-width="0.6" />
<path d="M211,330 L210,338" stroke="#2aa0a8" fill="none" stroke-width="0.8" />
<rect x="209.0" y="331.2" width="3" height="5.6" fill="#2f8fc4" stroke="#1a6f9a" stroke-width="0.3" />
<line x1="210.5" y1="332.4" x2="210.5" y2="335.6" stroke="#bfe6f6" stroke-width="0.6" />
<path d="M186,312 V316 M184,312 V316" stroke="#3fae5a" fill="none" stroke-width="0.6" />
<circle cx="212.5" cy="313.5" r="1.7" fill="white" stroke="#d84040" stroke-width="0.7" />
<path d="M211.5,315 L206,322 L204,320" stroke="#e04848" fill="none" stroke-width="0.7" />
<line x1="221" y1="318" x2="230" y2="318" stroke="#4aae62" stroke-width="0.6" />
<line x1="221" y1="321" x2="230" y2="321" stroke="#4aae62" stroke-width="0.6" />
<text x="139" y="334.8" font-size="5" text-anchor="start" fill="#666" textLength="20" lengthAdjust="spacingAndGlyphs" >Вывод под</text>
<text x="139" y="340.3" font-size="5" text-anchor="start" fill="#666" textLength="39" lengthAdjust="spacingAndGlyphs" >кондиционер/душ.кабины</text>
<line x1="139" y1="342.4" x2="178" y2="342.4" stroke="#555" stroke-width="0.5" />
<path d="M178,342.4 L221.6,321.6" stroke="#333" fill="none" stroke-width="0.6" />
<path d="M221.6,321.6 L219.14240293395216,323.88039835576006 L218.28125032320764,322.0752899986225 Z" stroke="none" fill="#222" stroke-width="1" />
<line x1="454" y1="98" x2="454" y2="389" stroke="#a9b6bc" stroke-width="0.6" stroke-dasharray="5,2.5"/>
<line x1="544.6" y1="98" x2="544.6" y2="389" stroke="#a9b6bc" stroke-width="0.6" stroke-dasharray="5,2.5"/>
<line x1="443" y1="115.5" x2="573" y2="115.5" stroke="#a9b6bc" stroke-width="0.6" stroke-dasharray="5,2.5"/>
<line x1="443" y1="124.25" x2="573" y2="124.25" stroke="#a9b6bc" stroke-width="0.6" stroke-dasharray="5,2.5"/>
<line x1="443" y1="132.5" x2="573" y2="132.5" stroke="#a9b6bc" stroke-width="0.6" stroke-dasharray="5,2.5"/>
<line x1="443" y1="233.6" x2="573" y2="233.6" stroke="#a9b6bc" stroke-width="0.6" stroke-dasharray="5,2.5"/>
<line x1="443" y1="242.4" x2="573" y2="242.4" stroke="#a9b6bc" stroke-width="0.6" stroke-dasharray="5,2.5"/>
<line x1="443" y1="251.2" x2="573" y2="251.2" stroke="#a9b6bc" stroke-width="0.6" stroke-dasharray="5,2.5"/>
<line x1="443" y1="339.1" x2="573" y2="339.1" stroke="#a9b6bc" stroke-width="0.6" stroke-dasharray="5,2.5"/>
<line x1="443" y1="347.4" x2="573" y2="347.4" stroke="#a9b6bc" stroke-width="0.6" stroke-dasharray="5,2.5"/>
<circle cx="454" cy="115.5" r="2.1" fill="#e04a4a" stroke="#c03535" stroke-width="0.4" />
<circle cx="454" cy="124.25" r="2.1" fill="#e04a4a" stroke="#c03535" stroke-width="0.4" />
<circle cx="454" cy="132.5" r="2.1" fill="#e04a4a" stroke="#c03535" stroke-width="0.4" />
<circle cx="454" cy="233.6" r="2.1" fill="#e04a4a" stroke="#c03535" stroke-width="0.4" />
<circle cx="454" cy="242.4" r="2.1" fill="#e04a4a" stroke="#c03535" stroke-width="0.4" />
<circle cx="454" cy="251.2" r="2.1" fill="#e04a4a" stroke="#c03535" stroke-width="0.4" />
<circle cx="454" cy="339.1" r="2.1" fill="#e04a4a" stroke="#c03535" stroke-width="0.4" />
<circle cx="454" cy="347.4" r="2.1" fill="#e04a4a" stroke="#c03535" stroke-width="0.4" />
<circle cx="544.6" cy="115.5" r="2.1" fill="#e04a4a" stroke="#c03535" stroke-width="0.4" />
<circle cx="544.6" cy="124.25" r="2.1" fill="#e04a4a" stroke="#c03535" stroke-width="0.4" />
<circle cx="544.6" cy="132.5" r="2.1" fill="#e04a4a" stroke="#c03535" stroke-width="0.4" />
<circle cx="544.6" cy="233.6" r="2.1" fill="#e04a4a" stroke="#c03535" stroke-width="0.4" />
<circle cx="544.6" cy="242.4" r="2.1" fill="#e04a4a" stroke="#c03535" stroke-width="0.4" />
<circle cx="544.6" cy="251.2" r="2.1" fill="#e04a4a" stroke="#c03535" stroke-width="0.4" />
<circle cx="544.6" cy="339.1" r="2.1" fill="#e04a4a" stroke="#c03535" stroke-width="0.4" />
<circle cx="544.6" cy="347.4" r="2.1" fill="#e04a4a" stroke="#c03535" stroke-width="0.4" />
<path d="M456,116.5 C459,118.5 459,121.25 456,123.25" stroke="#f2a868" fill="none" stroke-width="0.7" />
<path d="M456,125.25 C459,127.25 459,129.5 456,131.5" stroke="#f2a868" fill="none" stroke-width="0.7" />
<path d="M456,234.6 C459,236.6 459,239.4 456,241.4" stroke="#f2a868" fill="none" stroke-width="0.7" />
<path d="M456,243.4 C459,245.4 459,248.2 456,250.2" stroke="#f2a868" fill="none" stroke-width="0.7" />
<path d="M542.6,116.5 C539.6,118.5 539.6,121.25 542.6,123.25" stroke="#f2a868" fill="none" stroke-width="0.7" />
<path d="M542.6,125.25 C539.6,127.25 539.6,129.5 542.6,131.5" stroke="#f2a868" fill="none" stroke-width="0.7" />
<path d="M542.6,234.6 C539.6,236.6 539.6,239.4 542.6,241.4" stroke="#f2a868" fill="none" stroke-width="0.7" />
<path d="M542.6,243.4 C539.6,245.4 539.6,248.2 542.6,250.2" stroke="#f2a868" fill="none" stroke-width="0.7" />
<path d="M456,115 Q500,100 542.5,115" stroke="#f2a868" fill="none" stroke-width="0.8" />
<rect x="499.5" y="104.2" width="3" height="5.6" fill="#2f8fc4" stroke="#1a6f9a" stroke-width="0.3" />
<line x1="501" y1="105.4" x2="501" y2="108.6" stroke="#bfe6f6" stroke-width="0.6" />
<path d="M544,134.5 C525,155 515,190 542.5,231.5" stroke="#f2a868" fill="none" stroke-width="0.8" />
<rect x="520.2" y="182.7" width="3" height="5.6" fill="#2f8fc4" stroke="#1a6f9a" stroke-width="0.3" />
<line x1="521.7" y1="183.89999999999998" x2="521.7" y2="187.10000000000002" stroke="#bfe6f6" stroke-width="0.6" />
<path d="M455.5,253 C470,270 530,270 543,253" stroke="#f2a868" fill="none" stroke-width="0.8" />
<rect x="501.5" y="269.2" width="3" height="5.6" fill="#2f8fc4" stroke="#1a6f9a" stroke-width="0.3" />
<line x1="503" y1="270.4" x2="503" y2="273.6" stroke="#bfe6f6" stroke-width="0.6" />
<path d="M430,273 C440,276 452,276 454,253.5" stroke="#f2a868" fill="none" stroke-width="0.8" />
<rect x="456.0" y="266.7" width="3" height="5.6" fill="#2f8fc4" stroke="#1a6f9a" stroke-width="0.3" />
<line x1="457.5" y1="267.9" x2="457.5" y2="271.1" stroke="#bfe6f6" stroke-width="0.6" />
<path d="M455,96 C480,130 530,168 548,192 C557,205 560,222 560.5,240 L568.5,242.5" stroke="#2aa0a8" fill="none" stroke-width="0.8" />
<rect x="494.5" y="135.2" width="3" height="5.6" fill="#2f8fc4" stroke="#1a6f9a" stroke-width="0.3" />
<line x1="496" y1="136.39999999999998" x2="496" y2="139.60000000000002" stroke="#bfe6f6" stroke-width="0.6" />
<rect x="510.0" y="152.2" width="3" height="5.6" fill="#2f8fc4" stroke="#1a6f9a" stroke-width="0.3" />
<line x1="511.5" y1="153.39999999999998" x2="511.5" y2="156.60000000000002" stroke="#bfe6f6" stroke-width="0.6" />
<path d="M481,51 C470,53 466,60 467.7,66 C470,74 477,82 477,88 C477,94 472,98 462,101" stroke="#7f8fe0" fill="none" stroke-width="0.63" />
<path d="M447,85 L485.5,99.5 L489.5,82" stroke="#7f8fe0" fill="none" stroke-width="0.63" />
<rect x="468.5" y="95.9" width="3" height="5.6" fill="#2f8fc4" stroke="#1a6f9a" stroke-width="0.3" />
<line x1="470" y1="97.10000000000001" x2="470" y2="100.3" stroke="#bfe6f6" stroke-width="0.6" />
<path d="M485,51 C495,60 530,60 538,51" stroke="#7f8fe0" fill="none" stroke-width="0.63" />
<rect x="513.0" y="56.7" width="3" height="5.6" fill="#2f8fc4" stroke="#1a6f9a" stroke-width="0.3" />
<line x1="514.5" y1="57.900000000000006" x2="514.5" y2="61.099999999999994" stroke="#bfe6f6" stroke-width="0.6" />
<path d="M432,281 C445,290 455,283 470,283 C485,283 490,290 494,297" stroke="#7f8fe0" fill="none" stroke-width="0.63" />
<rect x="461.0" y="280.2" width="3" height="5.6" fill="#2f8fc4" stroke="#1a6f9a" stroke-width="0.3" />
<line x1="462.5" y1="281.4" x2="462.5" y2="284.6" stroke="#bfe6f6" stroke-width="0.6" />
<path d="M429,283 C431,290 430,295 424,298 C415,301 405,303 401,306" stroke="#3fae5a" fill="none" stroke-width="0.8" />
<rect x="424.5" y="293.2" width="3" height="5.6" fill="#2f8fc4" stroke="#1a6f9a" stroke-width="0.3" />
<line x1="426" y1="294.4" x2="426" y2="297.6" stroke="#bfe6f6" stroke-width="0.6" />
<path d="M455.5,349 C475,362 525,362 543,349" stroke="#7f8fe0" fill="none" stroke-width="0.63" />
<rect x="501.5" y="357.2" width="3" height="5.6" fill="#2f8fc4" stroke="#1a6f9a" stroke-width="0.3" />
<line x1="503" y1="358.4" x2="503" y2="361.6" stroke="#bfe6f6" stroke-width="0.6" />
<path d="M434,333 C440,333 445,333 452,338" stroke="#2aa0a8" fill="none" stroke-width="0.8" />
<rect x="444.5" y="330.7" width="3" height="5.6" fill="#2f8fc4" stroke="#1a6f9a" stroke-width="0.3" />
<line x1="446" y1="331.9" x2="446" y2="335.1" stroke="#bfe6f6" stroke-width="0.6" />
<path d="M456,340 C459,342 459,345 456,346.5" stroke="#2aa0a8" fill="none" stroke-width="0.6" />
<path d="M542.5,346.5 C539,345 539,342 542.5,340" stroke="#2aa0a8" fill="none" stroke-width="0.6" />
<circle cx="428" cy="273.6" r="1.7" fill="white" stroke="#d84040" stroke-width="0.7" />
<path d="M429.5,273 L437,272 L438,275 M429,275 L433,282 L435,281" stroke="#e04848" fill="none" stroke-width="0.7" />
<circle cx="427.6" cy="328" r="1.7" fill="white" stroke="#d84040" stroke-width="0.7" />
<path d="M429,328.5 L437,332 L437,334" stroke="#e04848" fill="none" stroke-width="0.7" />
<circle cx="443.8" cy="109" r="1.7" fill="white" stroke="#d84040" stroke-width="0.7" />
<path d="M445.5,109 L452,108 L452,111" stroke="#e04848" fill="none" stroke-width="0.7" />
<circle cx="571" cy="244" r="1.7" fill="white" stroke="#d84040" stroke-width="0.7" />
<path d="M569.5,244 L562,242 M569.5,245 L560,247.5 M570,246 L566,252.5" stroke="#e04848" fill="none" stroke-width="0.7" />
<circle cx="566" cy="252.5" r="1.2" fill="#d84848" stroke="none" stroke-width="1" />
<rect x="493" y="297.9" width="80" height="2.2" fill="#e29c96" stroke="#c85a55" stroke-width="0.6" />
<line x1="493" y1="299" x2="573" y2="299" stroke="white" stroke-width="0.7" stroke-dasharray="0.8,1.2"/>
<circle cx="477" cy="211.4" r="5.2" fill="none" stroke="#555" stroke-width="0.7" />
<text x="477" y="213.9" font-size="7" text-anchor="middle" fill="#666" textLength="5.6" lengthAdjust="spacingAndGlyphs" >18</text>
<path d="M561,320 C559,335 566,345 569,358 C571,368 569,374 566,377" stroke="#e04848" fill="none" stroke-width="0.7" />
<path d="M561,319 l-1.3,3 l2.6,0 Z" stroke="none" fill="#e04848" stroke-width="1" />
<rect x="563.0" y="344.7" width="3" height="5.6" fill="#2f8fc4" stroke="#1a6f9a" stroke-width="0.3" />
<line x1="564.5" y1="345.9" x2="564.5" y2="349.1" stroke="#bfe6f6" stroke-width="0.6" />
<rect x="557.9" y="366.5" width="3" height="5.6" fill="#2f8fc4" stroke="#1a6f9a" stroke-width="0.3" />
<line x1="559.4" y1="367.7" x2="559.4" y2="370.90000000000003" stroke="#bfe6f6" stroke-width="0.6" />
<line x1="562.2" y1="315.7" x2="572.7" y2="315.7" stroke="#4aae62" stroke-width="0.6" />
<line x1="562.2" y1="318.0" x2="572.7" y2="318.0" stroke="#4aae62" stroke-width="0.6" />
<line x1="564.5" y1="376" x2="564.5" y2="387.5" stroke="#4aae62" stroke-width="0.55" />
<line x1="566.5" y1="376" x2="566.5" y2="387.5" stroke="#4aae62" stroke-width="0.55" />
<circle cx="556.4" cy="384.3" r="1.7" fill="white" stroke="#d84040" stroke-width="0.7" />
<path d="M555.6,382.7 C554,378 555,372 559,370 C562,369 564,372 564,375" stroke="#e04848" fill="none" stroke-width="0.7" />
<line x1="437" y1="50" x2="574" y2="50" stroke="#a9b6bc" stroke-width="0.6" stroke-dasharray="5,2.5"/>
<circle cx="483" cy="50" r="2.1" fill="#e04a4a" stroke="#c03535" stroke-width="0.4" />
<circle cx="540" cy="50" r="2.1" fill="#e04a4a" stroke="#c03535" stroke-width="0.4" />
<circle cx="505.75" cy="47.5" r="5.2" fill="none" stroke="#555" stroke-width="0.7" />
<text x="505.75" y="50.0" font-size="7" text-anchor="middle" fill="#666" textLength="5.6" lengthAdjust="spacingAndGlyphs" >19</text>
<path d="M537,50 l-3,-1.8 l0.2,3.2 Z" stroke="none" fill="#7b8ae6" stroke-width="1" />
<circle cx="276.1" cy="289.4" r="5.2" fill="none" stroke="#555" stroke-width="0.7" />
<text x="276.1" y="291.9" font-size="7" text-anchor="middle" fill="#666" textLength="5.6" lengthAdjust="spacingAndGlyphs" >11</text>
<rect x="250.5" y="306.2" width="162.0" height="2.2" fill="#e29c96" stroke="#c85a55" stroke-width="0.6" />
<line x1="250.5" y1="307.3" x2="412.5" y2="307.3" stroke="white" stroke-width="0.7" stroke-dasharray="0.8,1.2"/>
<rect x="249.70000000000002" y="307.3" width="2.2" height="88.19999999999999" fill="#e29c96" stroke="#c85a55" stroke-width="0.6" />
<line x1="250.8" y1="307.3" x2="250.8" y2="395.5" stroke="white" stroke-width="0.7" stroke-dasharray="0.8,1.2"/>
<line x1="237.5" y1="290.1" x2="242" y2="290.1" stroke="#8050c0" stroke-width="1.2" />
<line x1="379.5" y1="338" x2="383.5" y2="338" stroke="#8050c0" stroke-width="1.2" />
<line x1="324.7" y1="315.5" x2="324.7" y2="319" stroke="#8050c0" stroke-width="1.2" />
<line x1="366.5" y1="315.5" x2="366.5" y2="319" stroke="#8050c0" stroke-width="1.2" />
<circle cx="280.3" cy="261.6" r="1.7" fill="white" stroke="#d84040" stroke-width="0.7" />
<path d="M280.3,263.3 V268 M279,268 L281.6,268 L280.3,272.5 Z" stroke="#d03040" fill="#d03040" stroke-width="0.6" />
<path d="M237,341 A28.3,27.3 0 0 1 265.3,368.3" stroke="#f2a868" fill="none" stroke-width="0.6" />
<line x1="237" y1="368.3" x2="265.3" y2="368.3" stroke="#f0c090" stroke-width="0.6" />
<path d="M277.5,341.5 A27,27.3 0 0 0 304.5,368.8" stroke="#f2a868" fill="none" stroke-width="0.6" />
<line x1="277.5" y1="341.5" x2="304.5" y2="341.5" stroke="#f0c090" stroke-width="0.6" />
<path d="M242.5,258 A31,36 0 0 1 273.5,222" stroke="#f2a868" fill="none" stroke-width="0.6" />
<line x1="273.8" y1="222" x2="273.8" y2="258" stroke="#f0c090" stroke-width="0.6" />
<path d="M388.5,293.5 A28,28 0 0 1 416.5,321.6" stroke="#f2a868" fill="none" stroke-width="0.6" />
<line x1="388.5" y1="293.5" x2="388.5" y2="321.6" stroke="#f0c090" stroke-width="0.6" />
<circle cx="239.3" cy="334.6" r="1.7" fill="white" stroke="#d84040" stroke-width="0.7" />
<path d="M241,335 L250,339" stroke="#e04848" fill="none" stroke-width="0.7" />
<path d="M250,340 C248,348 240,354 236,355" stroke="#7f8fe0" fill="none" stroke-width="0.63" />
<rect x="233.0" y="352.2" width="3" height="5.6" fill="#2f8fc4" stroke="#1a6f9a" stroke-width="0.3" />
<line x1="234.5" y1="353.4" x2="234.5" y2="356.6" stroke="#bfe6f6" stroke-width="0.6" />
<circle cx="302.6" cy="375.1" r="1.7" fill="white" stroke="#d84040" stroke-width="0.7" />
<path d="M301,375.5 L291,376 L291,373" stroke="#e04848" fill="none" stroke-width="0.7" />
<path d="M304,354 C298,360 292,366 291,373" stroke="#7f8fe0" fill="none" stroke-width="0.63" />
<rect x="303.5" y="351.2" width="3" height="5.6" fill="#2f8fc4" stroke="#1a6f9a" stroke-width="0.3" />
<line x1="305" y1="352.4" x2="305" y2="355.6" stroke="#bfe6f6" stroke-width="0.6" />
<circle cx="259.2" cy="401" r="1.7" fill="white" stroke="#d84040" stroke-width="0.7" />
<path d="M259.2,399.3 V391 L263,391 M259.2,394 L262,394 M261,399.5 L267,392 L270,395" stroke="#e04848" fill="none" stroke-width="0.7" />
<path d="M262,384 C262,389 256,392 253,395" stroke="#3fae5a" fill="none" stroke-width="0.8" />
<rect x="257.5" y="382.2" width="3" height="5.6" fill="#2f8fc4" stroke="#1a6f9a" stroke-width="0.3" />
<line x1="259" y1="383.4" x2="259" y2="386.6" stroke="#bfe6f6" stroke-width="0.6" />
<circle cx="326.5" cy="356" r="2.1" fill="#e04a4a" stroke="#c03535" stroke-width="0.4" />
<circle cx="335.6" cy="356" r="2.1" fill="#e04a4a" stroke="#c03535" stroke-width="0.4" />
<line x1="310" y1="356" x2="375" y2="356" stroke="#a9b6bc" stroke-width="0.6" stroke-dasharray="5,2.5"/>
<circle cx="321.3" cy="364.3" r="5.2" fill="none" stroke="#555" stroke-width="0.7" />
<text x="321.3" y="366.8" font-size="7" text-anchor="middle" fill="#666" textLength="5.6" lengthAdjust="spacingAndGlyphs" >16</text>
<path d="M306,354 C315,352 320,352 324.5,355" stroke="#7f8fe0" fill="none" stroke-width="0.63" />
<rect x="303.5" y="350.7" width="3" height="5.6" fill="#2f8fc4" stroke="#1a6f9a" stroke-width="0.3" />
<line x1="305" y1="351.9" x2="305" y2="355.1" stroke="#bfe6f6" stroke-width="0.6" />
<path d="M328,354 C330,347 335,347 335,353.5" stroke="#7f8fe0" fill="none" stroke-width="0.63" />
<path d="M337.5,355 C345,351 352,350 355,350 C362,350 368,356 370,364" stroke="#7f8fe0" fill="none" stroke-width="0.63" />
<rect x="353.0" y="348.2" width="3" height="5.6" fill="#2f8fc4" stroke="#1a6f9a" stroke-width="0.3" />
<line x1="354.5" y1="349.4" x2="354.5" y2="352.6" stroke="#bfe6f6" stroke-width="0.6" />
<path d="M370,364 C350,360 330,365 318,374 C310,380 308,385 308,388" stroke="#7f8fe0" fill="none" stroke-width="0.63" />
<rect x="330.0" y="364.2" width="3" height="5.6" fill="#2f8fc4" stroke="#1a6f9a" stroke-width="0.3" />
<line x1="331.5" y1="365.4" x2="331.5" y2="368.6" stroke="#bfe6f6" stroke-width="0.6" />
<line x1="364" y1="365.5" x2="375" y2="365.5" stroke="#3fae5a" stroke-width="0.6" />
<line x1="364" y1="367.5" x2="375" y2="367.5" stroke="#3fae5a" stroke-width="0.6" />
<line x1="310.3" y1="385" x2="310.3" y2="396" stroke="#4aae62" stroke-width="0.55" />
<line x1="312.3" y1="385" x2="312.3" y2="396" stroke="#4aae62" stroke-width="0.55" />
<circle cx="397.8" cy="337.5" r="2.1" fill="#e04a4a" stroke="#c03535" stroke-width="0.4" />
<circle cx="406.2" cy="337.5" r="2.1" fill="#e04a4a" stroke="#c03535" stroke-width="0.4" />
<circle cx="397.1" cy="369.2" r="2.1" fill="#e04a4a" stroke="#c03535" stroke-width="0.4" />
<circle cx="405.7" cy="369.2" r="2.1" fill="#e04a4a" stroke="#c03535" stroke-width="0.4" />
<line x1="382" y1="337.5" x2="420" y2="337.5" stroke="#a9b6bc" stroke-width="0.6" stroke-dasharray="5,2.5"/>
<line x1="382" y1="369.2" x2="420" y2="369.2" stroke="#a9b6bc" stroke-width="0.6" stroke-dasharray="5,2.5"/>
<line x1="401.5" y1="328" x2="401.5" y2="380" stroke="#a9b6bc" stroke-width="0.6" stroke-dasharray="5,2.5"/>
<circle cx="406.6" cy="348.2" r="5.2" fill="none" stroke="#555" stroke-width="0.7" />
<text x="406.6" y="350.7" font-size="7" text-anchor="middle" fill="#666" textLength="5.6" lengthAdjust="spacingAndGlyphs" >17</text>
<path d="M396.5,339.5 C390,350 392,360 396,367" stroke="#f2a868" fill="none" stroke-width="0.8" />
<rect x="393.0" y="348.7" width="3" height="5.6" fill="#2f8fc4" stroke="#1a6f9a" stroke-width="0.3" />
<line x1="394.5" y1="349.9" x2="394.5" y2="353.1" stroke="#bfe6f6" stroke-width="0.6" />
<path d="M407.5,339.5 C413,350 413,360 407,367" stroke="#f2a868" fill="none" stroke-width="0.8" />
<rect x="410.0" y="348.7" width="3" height="5.6" fill="#2f8fc4" stroke="#1a6f9a" stroke-width="0.3" />
<line x1="411.5" y1="349.9" x2="411.5" y2="353.1" stroke="#bfe6f6" stroke-width="0.6" />
<path d="M399.5,368 C401,364 403,364 404,368" stroke="#f2a868" fill="none" stroke-width="0.6" />
<path d="M399.5,336 C401,333 404,333 405,336" stroke="#f2a868" fill="none" stroke-width="0.6" />
<path d="M402,330 C404,318 410,305 412,300" stroke="#f2a868" fill="none" stroke-width="0.8" />
<rect x="403.0" y="315.2" width="3" height="5.6" fill="#2f8fc4" stroke="#1a6f9a" stroke-width="0.3" />
<line x1="404.5" y1="316.4" x2="404.5" y2="319.6" stroke="#bfe6f6" stroke-width="0.6" />
<circle cx="413.5" cy="374.5" r="1.8" fill="white" stroke="#e04848" stroke-width="0.7" />
<line x1="411.5" y1="374.5" x2="415.5" y2="374.5" stroke="#e04848" stroke-width="0.6" />
<line x1="413.5" y1="372.5" x2="413.5" y2="376.5" stroke="#e04848" stroke-width="0.6" />
<path d="M405,379 L411,376" stroke="#f2a868" fill="none" stroke-width="0.8" />
<rect x="401.0" y="374.2" width="3" height="5.6" fill="#2f8fc4" stroke="#1a6f9a" stroke-width="0.3" />
<line x1="402.5" y1="375.4" x2="402.5" y2="378.6" stroke="#bfe6f6" stroke-width="0.6" />
<circle cx="420" cy="319.3" r="1.7" fill="white" stroke="#d84040" stroke-width="0.7" />
<path d="M419.5,317.6 L416.5,309 L419,307 L417,302 L419.5,300" stroke="#e04848" fill="none" stroke-width="0.7" />
<text x="180" y="62.3" font-size="5.0" text-anchor="start" fill="#555555" textLength="30.5" lengthAdjust="spacingAndGlyphs" >Ниша для штор</text>
<line x1="178" y1="64" x2="229" y2="64" stroke="#333" stroke-width="0.6" />
<path d="M229,64 L237.5,94.5" stroke="#333" fill="none" stroke-width="0.6" />
<path d="M237.5,94.5 L235.67764231524873,91.68592600153659 L237.60422496290604,91.14900952595994 Z" stroke="none" fill="#222" stroke-width="1" />
<text x="169.5" y="69.8" font-size="5.0" text-anchor="start" fill="#555555" textLength="31.5" lengthAdjust="spacingAndGlyphs" >Подсветка штор</text>
<line x1="166" y1="71.5" x2="202" y2="71.5" stroke="#333" stroke-width="0.6" />
<path d="M166,71.5 L146,98.5" stroke="#333" fill="none" stroke-width="0.6" />
<path d="M146,98.5 L147.1011709686576,95.33338943067108 L148.7082853553471,96.52384453192255 Z" stroke="none" fill="#222" stroke-width="1" />
<text x="472.4" y="66.7" font-size="5.0" text-anchor="start" fill="#555555" textLength="32.4" lengthAdjust="spacingAndGlyphs" >Подсветка штор</text>
<line x1="468" y1="68" x2="505" y2="68" stroke="#333" stroke-width="0.6" />
<path d="M468,68 L455.8,97.3" stroke="#333" fill="none" stroke-width="0.6" />
<path d="M455.8,97.3 L456.10688317082185,93.96146398559692 L457.9532233977379,94.73024728827185 Z" stroke="none" fill="#222" stroke-width="1" />
<text x="531" y="68.4" font-size="5.0" text-anchor="start" fill="#555555" textLength="29.8" lengthAdjust="spacingAndGlyphs" >Ниша для штор</text>
<line x1="525.8" y1="70" x2="561" y2="70" stroke="#333" stroke-width="0.6" />
<path d="M525.8,70 L492.5,94.7" stroke="#333" fill="none" stroke-width="0.6" />
<path d="M492.5,94.7 L494.4744053921202,91.99043853224057 L495.6658985068373,93.5967835006648 Z" stroke="none" fill="#222" stroke-width="1" />
<line x1="440" y1="89.6" x2="491" y2="89.6" stroke="#555" stroke-width="0.6" stroke-dasharray="5,2.5"/>
<line x1="550" y1="89.6" x2="600" y2="89.6" stroke="#777" stroke-width="0.5" stroke-dasharray="5,2.5"/>
<line x1="452.3" y1="90" x2="452.3" y2="99" stroke="#4aae62" stroke-width="0.55" />
<line x1="454.1" y1="90" x2="454.1" y2="99" stroke="#4aae62" stroke-width="0.55" />
<text x="59.9" y="143.2" font-size="5.0" text-anchor="start" fill="#555555" textLength="28" lengthAdjust="spacingAndGlyphs" >Вывод под бра</text>
<line x1="59.5" y1="145.3" x2="91" y2="145.3" stroke="#333" stroke-width="0.6" />
<path d="M91,145.3 L144,127" stroke="#333" fill="none" stroke-width="0.6" />
<path d="M144,127 L141.30160665640716,128.98964151626714 L140.64885585418972,127.09916105082866 Z" stroke="none" fill="#222" stroke-width="1" />
<text x="59" y="185.8" font-size="5.0" text-anchor="start" fill="#555555" textLength="18" lengthAdjust="spacingAndGlyphs" >Вывод под</text>
<text x="59" y="191.9" font-size="5.0" text-anchor="start" fill="#555555" textLength="18" lengthAdjust="spacingAndGlyphs" >подсветку</text>
<text x="59" y="198" font-size="5.0" text-anchor="start" fill="#555555" textLength="11" lengthAdjust="spacingAndGlyphs" >полки</text>
<line x1="58.5" y1="199.5" x2="84.5" y2="199.5" stroke="#333" stroke-width="0.6" />
<path d="M84.5,199.5 L124.5,187.6" stroke="#333" fill="none" stroke-width="0.6" />
<path d="M124.5,187.6 L121.71800231093027,189.47095934162414 L121.14770476571184,187.5539928030748 Z" stroke="none" fill="#222" stroke-width="1" />
<text x="63.5" y="213.6" font-size="5.0" text-anchor="start" fill="#555555" textLength="27.7" lengthAdjust="spacingAndGlyphs" >Вывод под бра</text>
<line x1="63" y1="215.5" x2="95.6" y2="215.5" stroke="#333" stroke-width="0.6" />
<path d="M95.6,215.5 L143,194.5" stroke="#333" fill="none" stroke-width="0.6" />
<path d="M143,194.5 L140.4793422464933,196.7104941731854 L139.66921349192276,194.88191784144038 Z" stroke="none" fill="#222" stroke-width="1" />
<text x="55.9" y="262.8" font-size="5.0" text-anchor="start" fill="#555555" textLength="37.4" lengthAdjust="spacingAndGlyphs" >Подсветка шкафов</text>
<line x1="55.5" y1="264.3" x2="97.2" y2="264.3" stroke="#333" stroke-width="0.6" />
<path d="M97.2,264.3 L125.6,237.5" stroke="#333" fill="none" stroke-width="0.6" />
<path d="M125.6,237.5 L123.95897173484079,240.423529755783 L122.58632636947667,238.96893541338218 Z" stroke="none" fill="#222" stroke-width="1" />
<path d="M97.2,264.3 L221.3,236.3" stroke="#333" fill="none" stroke-width="0.6" />
<path d="M221.3,236.3 L218.39855879463556,237.97977347633937 L217.95837482329722,236.02881523194336 Z" stroke="none" fill="#222" stroke-width="1" />
<path d="M97.2,264.3 L154.5,298.6" stroke="#333" fill="none" stroke-width="0.6" />
<path d="M154.5,298.6 L151.24071823361214,297.81445409599974 L152.26794753240017,296.09841214787855 Z" stroke="none" fill="#222" stroke-width="1" />
<text x="48.7" y="306.9" font-size="5.0" text-anchor="start" fill="#555555" textLength="54" lengthAdjust="spacingAndGlyphs" >Расположение вентилятора</text>
<text x="63" y="312.9" font-size="5.0" text-anchor="start" fill="#555555" textLength="39.8" lengthAdjust="spacingAndGlyphs" >привязать по месту</text>
<line x1="48.7" y1="314.2" x2="106.8" y2="314.2" stroke="#333" stroke-width="0.6" />
<path d="M106.8,314.2 L138.5,320.8" stroke="#333" fill="none" stroke-width="0.6" />
<path d="M138.5,320.8 L135.16334953865308,321.126747148103 L135.57101138694796,319.16873493735335 Z" stroke="none" fill="#222" stroke-width="1" />
<text x="368" y="179" font-size="5.0" text-anchor="start" fill="#555555" textLength="28" lengthAdjust="spacingAndGlyphs" >Вывод под бра</text>
<line x1="367" y1="180.8" x2="400" y2="180.8" stroke="#333" stroke-width="0.6" />
<path d="M400,180.8 L408.5,201" stroke="#333" fill="none" stroke-width="0.6" />
<path d="M408.5,201 L406.33714916039077,198.43834501823497 L408.180591648159,197.66263902090677 Z" stroke="none" fill="#222" stroke-width="1" />
<line x1="409" y1="200.5" x2="419" y2="200.5" stroke="#4aae62" stroke-width="0.6" />
<line x1="409" y1="202.5" x2="419" y2="202.5" stroke="#4aae62" stroke-width="0.6" />
<text x="357.6" y="198.3" font-size="5.0" text-anchor="start" fill="#555555" textLength="41.5" lengthAdjust="spacingAndGlyphs" >Выкл блока верхнего</text>
<text x="368" y="204.3" font-size="5.0" text-anchor="start" fill="#555555" textLength="31" lengthAdjust="spacingAndGlyphs" >света детской</text>
<line x1="357" y1="205.5" x2="402" y2="205.5" stroke="#333" stroke-width="0.6" />
<path d="M402,205.5 L406.5,218" stroke="#333" fill="none" stroke-width="0.6" />
<path d="M406.5,218 L404.4752102896585,215.3278797502928 L406.356985113396,214.65044081374734 Z" stroke="none" fill="#222" stroke-width="1" />
<circle cx="416.8" cy="218.5" r="1.7" fill="white" stroke="#d84040" stroke-width="0.7" />
<path d="M406.5,219 L409,222 L415,219.5" stroke="#e04848" fill="none" stroke-width="0.7" />
<text x="358" y="217.3" font-size="5.0" text-anchor="start" fill="#555555" textLength="37" lengthAdjust="spacingAndGlyphs" >Подсветка шкафов</text>
<text x="358" y="223.4" font-size="5.0" text-anchor="start" fill="#555555" textLength="31" lengthAdjust="spacingAndGlyphs" >(не открывания)</text>
<line x1="357.5" y1="224.5" x2="400" y2="224.5" stroke="#333" stroke-width="0.6" />
<path d="M400,224.5 L412.5,243" stroke="#333" fill="none" stroke-width="0.6" />
<path d="M412.5,243 L409.87986731521903,240.90837271146543 L411.53704525260184,239.78865788890946 Z" stroke="none" fill="#222" stroke-width="1" />
<line x1="413" y1="243" x2="413" y2="251" stroke="#4aae62" stroke-width="0.55" />
<line x1="415" y1="243" x2="415" y2="251" stroke="#4aae62" stroke-width="0.55" />
<text x="592.6" y="257" font-size="5.0" text-anchor="start" fill="#555555" textLength="40.4" lengthAdjust="spacingAndGlyphs" >Выкл блока верхнего</text>
<text x="592.6" y="263" font-size="5.0" text-anchor="start" fill="#555555" textLength="45.6" lengthAdjust="spacingAndGlyphs" >света гостиной/кухни</text>
<line x1="588" y1="264.2" x2="638.4" y2="264.2" stroke="#333" stroke-width="0.6" />
<path d="M588,264.2 L561.6,248.5" stroke="#333" fill="none" stroke-width="0.6" />
<path d="M561.6,248.5 L564.8615315423102,249.27615204600394 L563.8392507434627,250.99514651030793 Z" stroke="none" fill="#222" stroke-width="1" />
<text x="598.4" y="316.7" font-size="5.0" text-anchor="start" fill="#555555" textLength="20.6" lengthAdjust="spacingAndGlyphs" >Подсветка</text>
<text x="598.4" y="323" font-size="5.0" text-anchor="start" fill="#555555" textLength="29" lengthAdjust="spacingAndGlyphs" >бокового шкафа</text>
<line x1="594.6" y1="324" x2="628" y2="324" stroke="#333" stroke-width="0.6" />
<path d="M594.6,324 L573.4,318" stroke="#333" fill="none" stroke-width="0.6" />
<path d="M573.4,318 L576.7513818124373,317.90922584473356 L576.2067368808387,319.8336379363823 Z" stroke="none" fill="#222" stroke-width="1" />
<text x="590.3" y="407.3" font-size="5.0" text-anchor="start" fill="#555555" textLength="20.2" lengthAdjust="spacingAndGlyphs" >Подсветка</text>
<text x="590.3" y="413.3" font-size="5.0" text-anchor="start" fill="#555555" textLength="23.4" lengthAdjust="spacingAndGlyphs" >столешницы</text>
<line x1="584" y1="414.6" x2="614" y2="414.6" stroke="#333" stroke-width="0.6" />
<path d="M584,414.6 L568,387.5" stroke="#333" fill="none" stroke-width="0.6" />
<path d="M568,387.5 L570.4880222147418,389.7471638700707 L568.7657897238222,390.763980100872 Z" stroke="none" fill="#222" stroke-width="1" />
<text x="162.5" y="428" font-size="5.0" text-anchor="start" fill="#555555" textLength="33" lengthAdjust="spacingAndGlyphs" >Подсветка полки</text>
<line x1="162" y1="430" x2="200.5" y2="430" stroke="#333" stroke-width="0.6" />
<path d="M200.5,430 L200.5,403.5" stroke="#333" fill="none" stroke-width="0.6" />
<path d="M200.5,403.5 L201.5,406.7 L199.5,406.7 Z" stroke="none" fill="#222" stroke-width="1" />
<text x="286.6" y="435.8" font-size="5.0" text-anchor="start" fill="#555555" textLength="35.6" lengthAdjust="spacingAndGlyphs" >Подсветка шкафов</text>
<line x1="286" y1="436.6" x2="327" y2="436.6" stroke="#333" stroke-width="0.6" />
<path d="M327,436.6 L314.7,395.6" stroke="#333" fill="none" stroke-width="0.6" />
<path d="M314.7,395.6 L316.57733951903344,398.37769622714137 L314.6616869485912,398.9523919982741 Z" stroke="none" fill="#222" stroke-width="1" />
<path d="M327,436.6 L362.6,368.4" stroke="#333" fill="none" stroke-width="0.6" />
<path d="M362.6,368.4 L362.0057123204102,371.69951847303327 L360.2327280794642,370.77403109799394 Z" stroke="none" fill="#222" stroke-width="1" />
<path d="M264.5,412 L270.6,432 L301.6,413.5" stroke="#333" fill="none" stroke-width="0.6" />
<text x="291.3" y="446" font-size="5.0" text-anchor="start" fill="#555555" textLength="24" lengthAdjust="spacingAndGlyphs" >Выключатель</text>
<text x="291.3" y="452" font-size="5.0" text-anchor="start" fill="#555555" textLength="28" lengthAdjust="spacingAndGlyphs" >блока верхнего</text>
<text x="291.3" y="458" font-size="5.0" text-anchor="start" fill="#555555" textLength="11" lengthAdjust="spacingAndGlyphs" >света</text>
<line x1="285.6" y1="459.3" x2="321" y2="459.3" stroke="#333" stroke-width="0.6" />
<path d="M285.6,459.3 L267.8,392.8" stroke="#333" fill="none" stroke-width="0.6" />
<path d="M267.8,392.8 L269.5934067268087,395.6326122770752 L267.6614198916754,396.1497455953515 Z" stroke="none" fill="#222" stroke-width="1" />
<text x="429.6" y="410.5" font-size="5.0" text-anchor="start" fill="#555555" textLength="55" lengthAdjust="spacingAndGlyphs" >Расположение вентилятора</text>
<text x="445" y="417.2" font-size="5.0" text-anchor="start" fill="#555555" textLength="39.6" lengthAdjust="spacingAndGlyphs" >привязать по месту</text>
<line x1="428" y1="418.6" x2="485" y2="418.6" stroke="#333" stroke-width="0.6" />
<path d="M428,418.6 L414,376.5" stroke="#333" fill="none" stroke-width="0.6" />
<path d="M414,376.5 L415.9586732634754,379.2209555393182 L414.0608563614658,379.8520585471124 Z" stroke="none" fill="#222" stroke-width="1" />
<path d="M165.80,106.20 L168.02,104.46 L168.60,106.59 Z" stroke="none" fill="#f0a060" stroke-width="1" />
<path d="M163.60,117.30 L165.76,119.12 L163.80,120.12 Z" stroke="none" fill="#f0a060" stroke-width="1" />
<path d="M242.80,117.30 L245.14,118.88 L243.29,120.08 Z" stroke="none" fill="#f0a060" stroke-width="1" />
<path d="M163.60,207.30 L163.69,204.48 L165.69,205.40 Z" stroke="none" fill="#f0a060" stroke-width="1" />
<path d="M242.80,207.30 L243.33,204.53 L245.16,205.75 Z" stroke="none" fill="#f0a060" stroke-width="1" />
<path d="M143.20,99.30 L143.11,102.12 L141.11,101.20 Z" stroke="none" fill="#7080e0" stroke-width="1" />
<path d="M456.50,115.20 L458.60,113.31 L459.32,115.39 Z" stroke="none" fill="#f0a060" stroke-width="1" />
<path d="M542.30,231.30 L539.68,230.24 L541.24,228.68 Z" stroke="none" fill="#f0a060" stroke-width="1" />
<path d="M542.60,134.60 L541.48,137.19 L539.96,135.60 Z" stroke="none" fill="#f0a060" stroke-width="1" />
<path d="M456.50,253.20 L458.92,254.65 L457.14,255.95 Z" stroke="none" fill="#f0a060" stroke-width="1" />
<path d="M454.20,253.60 L454.29,256.42 L452.24,255.63 Z" stroke="none" fill="#f0a060" stroke-width="1" />
<path d="M494.00,297.30 L491.74,295.61 L493.64,294.50 Z" stroke="none" fill="#7080e0" stroke-width="1" />
<path d="M401.20,305.80 L403.07,303.68 L404.02,305.67 Z" stroke="none" fill="#3fae5a" stroke-width="1" />
<path d="M452.00,338.20 L449.24,337.61 L450.50,335.81 Z" stroke="none" fill="#2aa0a8" stroke-width="1" />
<path d="M543.00,349.30 L541.56,351.73 L540.26,349.96 Z" stroke="none" fill="#7080e0" stroke-width="1" />
<path d="M159.00,246.00 L160.06,243.38 L161.62,244.94 Z" stroke="none" fill="#2aa0a8" stroke-width="1" />
<path d="M158.60,277.40 L158.51,274.58 L160.57,275.37 Z" stroke="none" fill="#2aa0a8" stroke-width="1" />
<path d="M197.60,279.50 L194.86,280.18 L195.20,278.01 Z" stroke="none" fill="#2aa0a8" stroke-width="1" />
<path d="M200.30,249.80 L200.99,252.54 L198.82,252.20 Z" stroke="none" fill="#2aa0a8" stroke-width="1" />
<path d="M152.30,296.50 L149.95,294.93 L151.79,293.72 Z" stroke="none" fill="#7080e0" stroke-width="1" />
<path d="M222.80,238.80 L224.00,241.36 L221.80,241.44 Z" stroke="none" fill="#7080e0" stroke-width="1" />
<path d="M143.30,349.20 L144.66,346.73 L146.02,348.46 Z" stroke="none" fill="#2aa0a8" stroke-width="1" />
<path d="M212.00,348.20 L209.28,347.43 L210.66,345.72 Z" stroke="none" fill="#2aa0a8" stroke-width="1" />
<path d="M175.50,359.20 L174.05,361.62 L172.75,359.85 Z" stroke="none" fill="#2aa0a8" stroke-width="1" />
<path d="M212.00,359.20 L210.69,361.70 L209.29,360.01 Z" stroke="none" fill="#2aa0a8" stroke-width="1" />
<path d="M201.00,392.00 L203.05,390.06 L203.82,392.12 Z" stroke="none" fill="#2aa0a8" stroke-width="1" />
<path d="M139.50,346.00 L137.51,343.99 L139.56,343.18 Z" stroke="none" fill="#2aa0a8" stroke-width="1" />
<path d="M324.50,355.00 L321.68,355.11 L322.46,353.05 Z" stroke="none" fill="#7080e0" stroke-width="1" />
<path d="M335.00,353.50 L333.90,350.90 L336.10,350.90 Z" stroke="none" fill="#7080e0" stroke-width="1" />
<path d="M370.00,364.00 L368.36,361.70 L370.51,361.22 Z" stroke="none" fill="#7080e0" stroke-width="1" />
<path d="M308.00,388.00 L307.49,385.22 L309.64,385.70 Z" stroke="none" fill="#7080e0" stroke-width="1" />
<path d="M396.80,367.00 L394.57,365.27 L396.49,364.19 Z" stroke="none" fill="#f0a060" stroke-width="1" />
<path d="M396.80,339.70 L396.67,342.52 L394.68,341.57 Z" stroke="none" fill="#f0a060" stroke-width="1" />
<path d="M253.00,395.00 L254.26,392.47 L255.69,394.14 Z" stroke="none" fill="#3fae5a" stroke-width="1" />
<path d="M292.00,254.00 L290.90,251.40 L293.10,251.40 Z" stroke="none" fill="#7080e0" stroke-width="1" />
<path d="M286.50,126.00 L288.09,128.33 L285.93,128.77 Z" stroke="none" fill="#7080e0" stroke-width="1" />
<path d="M327.00,250.50 L327.05,247.68 L329.06,248.57 Z" stroke="none" fill="#f0a060" stroke-width="1" />
<rect x="163.9" y="198.1" width="3" height="5.6" fill="#2f8fc4" stroke="#1a6f9a" stroke-width="0.3" />
<line x1="165.4" y1="199.29999999999998" x2="165.4" y2="202.50000000000003" stroke="#bfe6f6" stroke-width="0.6" />
<path d="M156,193 C160,193 163,195 164.5,198" stroke="#e04848" fill="none" stroke-width="0.7" />
<path d="M157,186 C162,190 163,195 161,199 C158,203 152,203 150,202" stroke="#7f8fe0" fill="none" stroke-width="0.63" />
<line x1="308.5" y1="402.9" x2="333" y2="402.9" stroke="#d08a80" stroke-width="0.9" />
<rect x="299.6" y="407.5" width="2.2" height="6.5" fill="#bbb" stroke="#888" stroke-width="0.4" />
<rect x="264" y="407.5" width="2.2" height="6.5" fill="#bbb" stroke="#888" stroke-width="0.4" />
</svg>
</body></html>
